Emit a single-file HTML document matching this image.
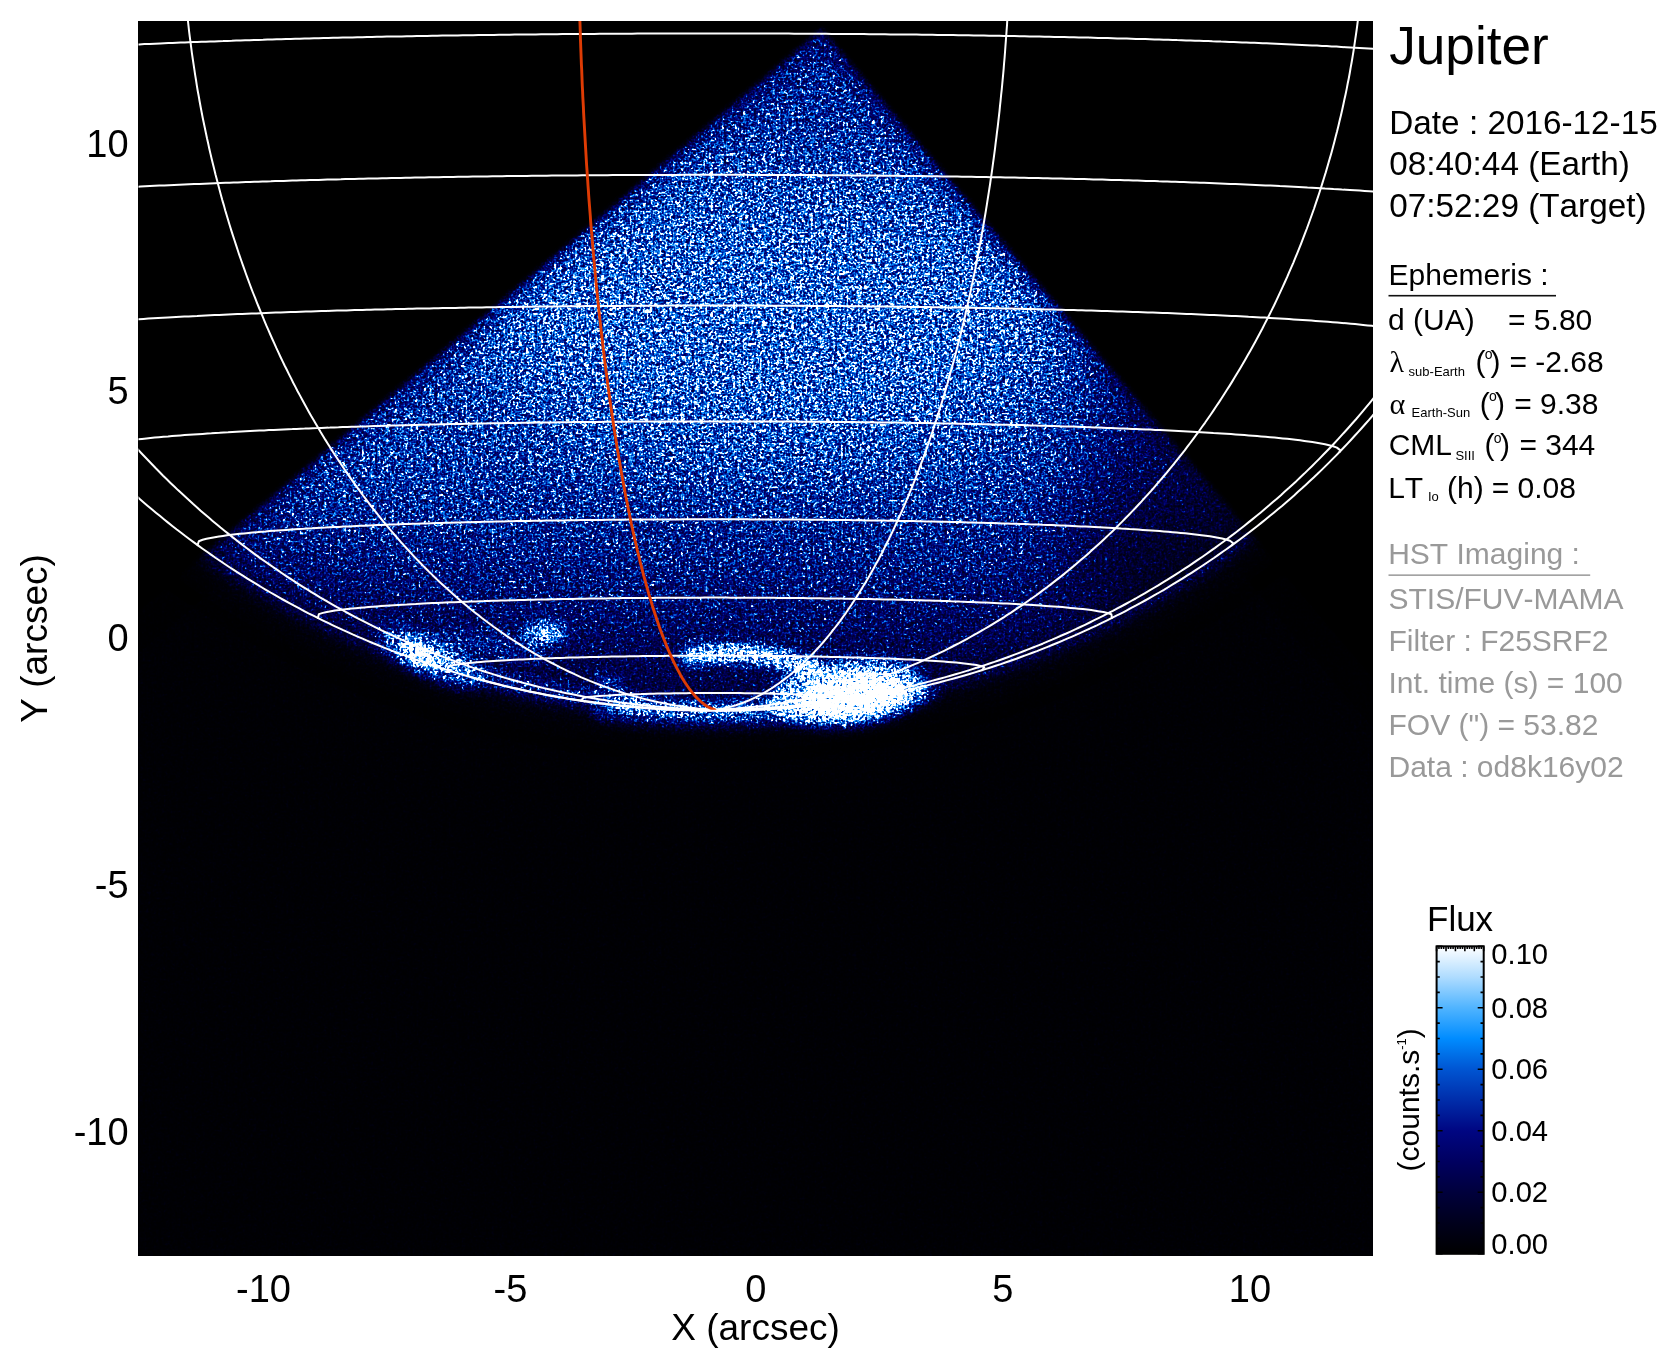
<!DOCTYPE html>
<html><head><meta charset="utf-8"><title>Jupiter HST</title>
<style>html,body{margin:0;padding:0;background:#fff}body{width:1676px;height:1368px;overflow:hidden;position:relative}svg{position:absolute;left:0;top:0;display:block;will-change:transform}text{font-family:"Liberation Sans",sans-serif;white-space:pre;font-kerning:none;font-variant-ligatures:none}</style></head><body>
<svg width="1676" height="1368" viewBox="0 0 1676 1368">
<defs>
<clipPath id="plotclip"><rect x="138.5" y="21.0" width="1234.5" height="1235.0"/></clipPath>
<filter id="noisecm" filterUnits="userSpaceOnUse" x="138.5" y="21.0" width="1234.5" height="1235.0" color-interpolation-filters="sRGB">
<feTurbulence type="fractalNoise" baseFrequency="0.53" numOctaves="1" seed="3" result="tA"/>
<feColorMatrix in="tA" type="matrix" values="0.55 0.55 0 0 -0.3400  0.55 0.55 0 0 -0.3400  0.55 0.55 0 0 -0.3400  0 0 0 0 1" result="nA"/>
<feTurbulence type="fractalNoise" baseFrequency="0.37" numOctaves="1" seed="11" result="tB"/>
<feColorMatrix in="tB" type="matrix" values="0.5 0.5 0 0 -0.3100  0.5 0.5 0 0 -0.3100  0.5 0.5 0 0 -0.3100  0 0 0 0 1" result="nB"/>
<feTurbulence type="fractalNoise" baseFrequency="0.21" numOctaves="1" seed="23" result="tC"/>
<feColorMatrix in="tC" type="matrix" values="0.3 0.3 0 0 -0.2000  0.3 0.3 0 0 -0.2000  0.3 0.3 0 0 -0.2000  0 0 0 0 1" result="nC"/>
<feComposite in="nA" in2="nB" operator="arithmetic" k1="0" k2="1" k3="1" k4="0" result="nAB"/>
<feComposite in="nAB" in2="nC" operator="arithmetic" k1="0" k2="1" k3="1" k4="0" result="n"/>
<feComponentTransfer in="n" result="w"><feFuncR type="table" tableValues="0.0907 0.0907 0.0907 0.0907 0.0907 0.0907 0.0907 0.0907 0.0907 0.0907 0.0928 0.0979 0.1033 0.1089 0.1149 0.1212 0.1279 0.1349 0.1424 0.1502 0.1584 0.1672 0.1763 0.1860 0.1963 0.2071 0.2185 0.2305 0.2431 0.2565 0.2706 0.2855 0.3012 0.3178 0.3352 0.3537 0.3731 0.3936 0.4153 0.4381 0.4622 0.4876 0.5144 0.5427 0.5726 0.6040 0.6373 0.6723 0.7093 0.7483 0.7894 0.8328 0.8786 0.9269 0.9779 1.0000 1.0000 1.0000 1.0000 1.0000 1.0000 1.0000 1.0000 1.0000 1.0000"/><feFuncG type="table" tableValues="0.0907 0.0907 0.0907 0.0907 0.0907 0.0907 0.0907 0.0907 0.0907 0.0907 0.0928 0.0979 0.1033 0.1089 0.1149 0.1212 0.1279 0.1349 0.1424 0.1502 0.1584 0.1672 0.1763 0.1860 0.1963 0.2071 0.2185 0.2305 0.2431 0.2565 0.2706 0.2855 0.3012 0.3178 0.3352 0.3537 0.3731 0.3936 0.4153 0.4381 0.4622 0.4876 0.5144 0.5427 0.5726 0.6040 0.6373 0.6723 0.7093 0.7483 0.7894 0.8328 0.8786 0.9269 0.9779 1.0000 1.0000 1.0000 1.0000 1.0000 1.0000 1.0000 1.0000 1.0000 1.0000"/><feFuncB type="table" tableValues="0.0907 0.0907 0.0907 0.0907 0.0907 0.0907 0.0907 0.0907 0.0907 0.0907 0.0928 0.0979 0.1033 0.1089 0.1149 0.1212 0.1279 0.1349 0.1424 0.1502 0.1584 0.1672 0.1763 0.1860 0.1963 0.2071 0.2185 0.2305 0.2431 0.2565 0.2706 0.2855 0.3012 0.3178 0.3352 0.3537 0.3731 0.3936 0.4153 0.4381 0.4622 0.4876 0.5144 0.5427 0.5726 0.6040 0.6373 0.6723 0.7093 0.7483 0.7894 0.8328 0.8786 0.9269 0.9779 1.0000 1.0000 1.0000 1.0000 1.0000 1.0000 1.0000 1.0000 1.0000 1.0000"/></feComponentTransfer>
<feComposite in="SourceGraphic" in2="w" operator="arithmetic" k1="6.130" k2="0" k3="0" k4="0" result="v"/>
<feComponentTransfer in="v"><feFuncR type="table" tableValues="0.000 0.000 0.000 0.000 0.000 0.000 0.000 0.000 0.314 0.686 1.000"/><feFuncG type="table" tableValues="0.000 0.000 0.000 0.000 0.024 0.176 0.333 0.549 0.706 0.863 1.000"/><feFuncB type="table" tableValues="0.000 0.110 0.235 0.376 0.510 0.667 0.824 1.000 1.000 1.000 1.000"/><feFuncA type="linear" slope="0" intercept="1"/></feComponentTransfer>
</filter>
<filter id="b2" x="-20%" y="-20%" width="140%" height="140%" color-interpolation-filters="sRGB"><feGaussianBlur stdDeviation="2"/></filter>
<filter id="b6" x="-20%" y="-20%" width="140%" height="140%" color-interpolation-filters="sRGB"><feGaussianBlur stdDeviation="7"/></filter>
<filter id="b12" x="-50%" y="-50%" width="200%" height="200%" color-interpolation-filters="sRGB"><feGaussianBlur stdDeviation="10"/></filter>
<filter id="b30" x="-50%" y="-50%" width="200%" height="200%" color-interpolation-filters="sRGB"><feGaussianBlur stdDeviation="40"/></filter>
<clipPath id="detclip"><polygon points="821.4,29.5 -701.6,1325.7 594.6,2848.7 2117.6,1552.5"/></clipPath>
<clipPath id="diskclip"><ellipse cx="714.86" cy="-73.49" rx="841.43" ry="784.2584610504133"/></clipPath>
<linearGradient id="cbg" x1="0" y1="1" x2="0" y2="0">
<stop offset="0.0" stop-color="rgb(0, 0, 0)"/>
<stop offset="0.1" stop-color="rgb(0, 0, 28)"/>
<stop offset="0.2" stop-color="rgb(0, 0, 60)"/>
<stop offset="0.3" stop-color="rgb(0, 0, 96)"/>
<stop offset="0.4" stop-color="rgb(0, 6, 130)"/>
<stop offset="0.5" stop-color="rgb(0, 45, 170)"/>
<stop offset="0.6" stop-color="rgb(0, 85, 210)"/>
<stop offset="0.7" stop-color="rgb(0, 140, 255)"/>
<stop offset="0.8" stop-color="rgb(80, 180, 255)"/>
<stop offset="0.9" stop-color="rgb(175, 220, 255)"/>
<stop offset="1.0" stop-color="rgb(255, 255, 255)"/>
</linearGradient>
<linearGradient id="diskg" gradientUnits="userSpaceOnUse" x1="0" y1="30" x2="0" y2="720">
<stop offset="0" stop-color="rgb(91,91,91)"/>
<stop offset="0.25" stop-color="rgb(127,127,127)"/>
<stop offset="0.45" stop-color="rgb(127,127,127)"/>
<stop offset="0.7" stop-color="rgb(102,102,102)"/>
<stop offset="0.85" stop-color="rgb(76,76,76)"/>
<stop offset="1" stop-color="rgb(66,66,66)"/>
</linearGradient>
<filter id="b5" x="-20%" y="-50%" width="140%" height="200%" color-interpolation-filters="sRGB"><feGaussianBlur stdDeviation="5"/></filter>
<filter id="b7" x="-50%" y="-50%" width="200%" height="200%" color-interpolation-filters="sRGB"><feGaussianBlur stdDeviation="6"/></filter>
<filter id="b20" x="-10%" y="-10%" width="120%" height="120%" color-interpolation-filters="sRGB"><feGaussianBlur stdDeviation="14"/></filter>
<filter id="bdet" filterUnits="userSpaceOnUse" x="0" y="0" width="1676" height="1368" color-interpolation-filters="sRGB"><feGaussianBlur stdDeviation="2.5"/></filter>
<clipPath id="diskclip2"><ellipse cx="714.86" cy="-73.49" rx="847.43" ry="790.2584610504133"/></clipPath>
<radialGradient id="diskrg">
<stop offset="0" stop-color="rgb(68,68,68)"/>
<stop offset="0.8" stop-color="rgb(68,68,68)"/>
<stop offset="0.9" stop-color="rgb(64,64,64)"/>
<stop offset="0.96" stop-color="rgb(54,54,54)"/>
<stop offset="1.0" stop-color="rgb(38,38,38)"/>
</radialGradient>
</defs>
<rect x="138.5" y="21.0" width="1234.5" height="1235.0" fill="#000"/>
<g clip-path="url(#plotclip)">
<g filter="url(#noisecm)">
<rect x="138.5" y="21.0" width="1234.5" height="1235.0" fill="#000"/>
<g filter="url(#bdet)"><g clip-path="url(#detclip)">
<rect x="0" y="0" width="1676" height="1368" fill="rgb(2,2,2)"/>
<g filter="url(#b20)"><ellipse cx="714.86" cy="-73.49" rx="859.43" ry="802.2584610504133" fill="rgb(9,9,9)"/></g>
<g filter="url(#b6)"><ellipse cx="714.86" cy="-73.49" rx="847.43" ry="790.2584610504133" fill="url(#diskrg)"/></g>
<g clip-path="url(#diskclip)">
<g filter="url(#b12)"><polygon points="72,1409 72,509 152,509 152,508 152,508 153,510 154,506 156,506 159,505 162,504 166,503 171,502 176,501 182,500 189,499 196,499 204,498 213,497 222,496 232,495 242,494 253,494 264,493 276,492 289,492 302,491 316,490 330,490 344,489 359,488 375,488 390,487 407,487 423,486 440,486 457,485 475,485 493,485 511,484 530,484 548,484 567,483 586,483 605,483 625,483 644,483 663,483 683,482 703,482 722,482 742,482 761,483 781,483 800,483 820,483 839,483 858,483 877,484 896,484 914,484 932,484 950,485 968,485 985,486 1002,486 1019,487 1035,487 1051,488 1067,488 1082,489 1097,489 1111,490 1124,491 1138,491 1150,492 1162,493 1174,494 1185,494 1196,495 1206,496 1215,497 1224,497 1232,498 1239,499 1246,500 1252,501 1258,502 1262,503 1267,504 1270,504 1273,505 1275,506 1277,507 1277,510 1278,508 1278,509 1278,509 1358,509 1358,1409" fill="#000" opacity="0.07"/></g>
<g filter="url(#b12)"><polygon points="117,1444 117,544 197,544 197,543 197,543 197,545 198,542 200,541 202,540 205,539 209,538 213,538 218,537 223,536 229,535 235,534 243,534 250,533 259,532 268,531 277,531 287,530 297,529 308,529 320,528 332,527 344,527 357,526 370,525 384,525 398,524 412,524 427,523 442,523 458,522 474,522 490,522 506,521 523,521 540,521 557,520 574,520 592,520 609,520 627,520 645,520 663,519 681,519 699,519 717,519 735,519 753,519 771,519 789,520 807,520 825,520 842,520 860,520 877,521 894,521 911,521 927,521 944,522 960,522 976,523 991,523 1006,523 1021,524 1035,524 1049,525 1063,526 1076,526 1089,527 1101,527 1113,528 1124,529 1135,529 1145,530 1155,531 1164,531 1173,532 1181,533 1189,534 1196,535 1202,535 1208,536 1213,537 1218,538 1222,539 1226,539 1228,540 1230,541 1232,542 1233,542 1233,543 1233,543 1233,544 1313,544 1313,1444" fill="#000" opacity="0.08"/></g>
<g filter="url(#b12)"><polygon points="163,1475 163,575 243,575 243,575 243,576 244,574 244,574 245,573 247,572 250,571 253,571 257,570 261,569 266,568 271,568 277,567 283,566 290,566 297,565 305,564 314,564 322,563 332,562 342,562 352,561 363,560 374,560 385,559 397,559 410,558 422,558 435,557 449,557 463,556 477,556 491,556 506,555 520,555 536,555 551,554 566,554 582,554 598,554 614,554 630,553 646,553 663,553 679,553 695,553 712,553 728,553 745,553 761,553 777,553 794,553 810,553 826,554 842,554 858,554 873,554 888,555 904,555 919,555 933,556 948,556 962,556 976,557 989,557 1003,558 1015,558 1028,559 1040,559 1052,560 1063,560 1074,561 1084,561 1094,562 1104,563 1113,563 1122,564 1130,565 1137,565 1144,566 1151,567 1157,567 1162,568 1167,569 1172,570 1175,570 1179,571 1181,572 1184,573 1185,573 1186,574 1186,576 1186,576 1187,575 1187,575 1267,575 1267,1475" fill="#000" opacity="0.08"/></g>
<g filter="url(#b12)"><polygon points="211,1503 211,603 291,603 292,603 292,604 292,602 292,602 293,602 295,601 297,600 299,600 302,599 306,598 310,598 315,597 320,596 325,596 331,595 338,594 345,594 352,593 360,593 368,592 377,591 386,591 396,590 406,590 416,589 426,589 437,588 449,588 460,588 472,587 485,587 497,586 510,586 523,586 536,585 550,585 563,585 577,585 591,584 605,584 620,584 634,584 649,584 663,584 678,584 693,584 707,584 722,584 737,584 752,584 766,584 781,584 796,584 810,584 824,584 838,584 853,585 866,585 880,585 894,585 907,586 920,586 933,586 945,587 957,587 969,588 981,588 992,588 1003,589 1014,589 1024,590 1034,590 1044,591 1053,591 1061,592 1070,593 1077,593 1085,594 1092,594 1098,595 1104,596 1110,596 1115,597 1120,598 1124,598 1127,599 1130,600 1133,600 1135,601 1137,602 1137,605 1138,604 1138,603 1138,603 1138,603 1138,603 1218,603 1218,1503" fill="#000" opacity="0.08"/></g>
<g filter="url(#b12)"><polygon points="261,1528 261,628 341,628 341,628 342,628 342,627 342,627 343,630 343,626 345,626 347,625 350,625 353,624 356,623 360,623 364,622 369,622 374,621 380,621 386,620 392,620 399,619 406,619 413,618 421,618 429,617 438,617 447,616 456,616 466,615 476,615 486,615 496,614 507,614 518,614 529,613 540,613 552,613 564,612 576,612 588,612 600,612 613,612 625,611 638,611 651,611 664,611 677,611 690,611 703,611 716,611 729,611 742,611 755,611 768,611 780,611 793,611 806,611 818,612 831,612 843,612 855,612 867,612 879,613 891,613 902,613 913,614 924,614 935,614 945,615 955,615 965,615 975,616 984,616 993,617 1001,617 1009,618 1017,618 1025,619 1032,619 1039,620 1045,620 1051,621 1056,621 1061,622 1066,622 1070,623 1074,624 1077,624 1080,625 1083,625 1085,626 1086,627 1087,627 1088,627 1088,627 1088,628 1088,629 1088,628 1168,628 1168,1528" fill="#000" opacity="0.07"/></g>
<g filter="url(#b12)"><polygon points="312,1550 312,650 392,650 392,650 393,651 393,649 393,651 394,649 394,648 395,648 396,648 398,647 401,647 404,646 407,646 410,645 414,645 418,644 423,644 428,643 433,643 439,642 445,642 451,641 458,641 465,640 472,640 479,640 487,639 495,639 504,639 512,638 521,638 530,638 539,637 549,637 559,637 569,637 579,636 589,636 599,636 610,636 621,636 632,635 642,635 653,635 664,635 676,635 687,635 698,635 709,635 720,635 732,635 743,635 754,635 765,635 776,635 787,635 798,635 809,636 820,636 830,636 841,636 851,636 861,637 871,637 881,637 890,637 900,638 909,638 918,638 926,639 935,639 943,639 950,640 958,640 965,640 972,641 979,641 985,642 991,642 997,643 1002,643 1007,644 1011,644 1016,645 1020,645 1023,646 1026,646 1029,647 1031,647 1033,648 1035,648 1036,652 1036,651 1037,649 1037,651 1037,649 1037,650 1037,650 1037,650 1117,650 1117,1550" fill="#000" opacity="0.07"/></g>
<g filter="url(#b12)"><polygon points="365,1568 365,668 445,668 445,668 445,668 445,668 445,669 446,669 446,670 447,670 447,670 448,666 450,666 452,665 454,665 457,664 460,664 463,664 467,663 471,663 475,662 480,662 484,662 489,661 495,661 500,661 506,660 512,660 519,660 525,659 532,659 539,659 546,658 554,658 561,658 569,658 577,657 586,657 594,657 602,657 611,657 620,656 629,656 638,656 647,656 656,656 665,656 674,656 684,656 693,656 702,656 712,656 721,656 731,656 740,656 750,656 759,656 768,656 777,656 786,656 795,656 804,656 813,657 822,657 831,657 839,657 847,657 855,657 863,658 871,658 879,658 886,658 893,659 900,659 907,659 914,660 920,660 926,660 932,661 937,661 942,661 947,662 952,662 956,663 960,663 964,663 968,664 971,664 974,665 976,665 978,665 980,666 982,666 983,670 983,667 984,670 984,669 985,667 985,668 985,669 985,668 985,668 1065,668 1065,1568" fill="#000" opacity="0.06"/></g>
</g>
<g clip-path="url(#diskclip)">
<g filter="url(#b30)"><ellipse cx="770" cy="320" rx="300" ry="140" fill="#fff" opacity="0.1"/></g>
<g filter="url(#b30)"><ellipse cx="821" cy="25" rx="150" ry="90" fill="#000" opacity="0.15"/></g>
<g filter="url(#b30)"><ellipse cx="1275" cy="480" rx="190" ry="210" fill="#000" opacity="0.45"/></g>
<g filter="url(#b30)"><ellipse cx="1170" cy="565" rx="130" ry="75" fill="#000" opacity="0.3"/></g>
</g>
<g filter="url(#b12)"><polygon points="821.4,29.5 -701.6,1325.7 594.6,2848.7 2117.6,1552.5" fill="none" stroke="#000" stroke-width="18" opacity="0.4"/></g>
<g filter="url(#b5)" fill="none" stroke="#fff" stroke-linecap="round">
<path d="M445.0 663.3 L448.3 664.4 L451.6 665.4 L454.9 666.4 L458.2 667.4 L461.5 668.4 L464.8 669.3 L468.1 670.3 L471.4 671.2 L474.7 672.2 L478.1 673.1 L481.4 674.0 L484.7 674.8 L488.0 675.7 L491.3 676.6 L494.6 677.4 L497.9 678.2 L501.2 679.1 L504.5 679.9 L507.8 680.7 L511.1 681.4 L514.4 682.2 L517.7 682.9 L521.0 683.7 L524.3 684.4 L527.6 685.1 L530.9 685.8 L534.2 686.5 L537.5 687.2 L540.8 687.8 L544.2 688.5 L547.5 689.1 L550.8 689.7 L554.1 690.3 L557.4 690.9 L560.7 691.5 L564.0 692.1 L567.3 692.6 L570.6 693.2 L573.9 693.7 L577.2 694.2 L580.5 694.7 L583.8 695.2 L587.1 695.7 L590.4 696.1 L593.7 696.6 L597.0 697.0 L600.3 697.5 L603.6 697.9 L606.9 698.3 L610.3 698.7 L613.6 699.1 L616.9 699.4 L620.2 699.8 L623.5 700.1 L626.8 700.5 L630.1 700.8 L633.4 701.1 L636.7 701.4 L640.0 701.7" stroke-width="12" opacity="0.18"/>
<path d="M620.0 703.8 L624.7 704.3 L629.5 704.7 L634.2 705.2 L639.0 705.6 L643.7 706.0 L648.5 706.3 L653.2 706.7 L658.0 707.0 L662.7 707.3 L667.5 707.5 L672.2 707.8 L676.9 708.0 L681.7 708.2 L686.4 708.3 L691.2 708.5 L695.9 708.6 L700.7 708.7 L705.4 708.7 L710.2 708.8 L714.9 708.8 L719.7 708.8 L724.4 708.7 L729.2 708.7 L733.9 708.6 L738.6 708.5 L743.4 708.3 L748.1 708.2 L752.9 708.0 L757.6 707.8 L762.4 707.5 L767.1 707.3 L771.9 707.0 L776.6 706.7 L781.4 706.3 L786.1 706.0 L790.8 705.6 L795.6 705.2 L800.3 704.7 L805.1 704.2 L809.8 703.8 L814.6 703.2 L819.3 702.7 L824.1 702.1 L828.8 701.5 L833.6 700.9 L838.3 700.3 L843.1 699.6 L847.8 698.9 L852.5 698.2 L857.3 697.5 L862.0 696.7 L866.8 695.9 L871.5 695.1 L876.3 694.2 L881.0 693.3 L885.8 692.4 L890.5 691.5 L895.3 690.5 L900.0 689.5" stroke-width="16" opacity="0.25"/>
<path d="M600.0 711.4 L605.6 712.1 L611.2 712.8 L616.8 713.4 L622.4 714.0 L628.0 714.6 L633.6 715.1 L639.2 715.6 L644.7 716.0 L650.3 716.5 L655.9 716.8 L661.5 717.2 L667.1 717.5 L672.7 717.8 L678.3 718.0 L683.9 718.2 L689.5 718.4 L695.1 718.6 L700.7 718.7 L706.3 718.7 L711.9 718.8 L717.5 718.8 L723.1 718.7 L728.6 718.7 L734.2 718.6 L739.8 718.4 L745.4 718.3 L751.0 718.0 L756.6 717.8 L762.2 717.5 L767.8 717.2 L773.4 716.9 L779.0 716.5 L784.6 716.1 L790.2 715.6 L795.8 715.1 L801.4 714.6 L806.9 714.1 L812.5 713.5 L818.1 712.8 L823.7 712.2 L829.3 711.5 L834.9 710.7 L840.5 710.0 L846.1 709.2 L851.7 708.3 L857.3 707.5 L862.9 706.5 L868.5 705.6 L874.1 704.6 L879.7 703.6 L885.3 702.5 L890.8 701.4 L896.4 700.3 L902.0 699.1 L907.6 697.9 L913.2 696.7 L918.8 695.4 L924.4 694.1 L930.0 692.7" stroke-width="18" opacity="0.14"/>
<path d="M690 656 Q760 647 815 670" stroke-width="15" opacity="0.55"/>
</g>
<g filter="url(#b7)">
<ellipse cx="853" cy="695" rx="48" ry="19" fill="#fff" opacity="1.0" transform="rotate(-6 853 695)"/>
<ellipse cx="848" cy="693" rx="78" ry="32" fill="#fff" opacity="0.4" transform="rotate(-6 848 693)"/>
<ellipse cx="421" cy="654" rx="22" ry="8" fill="#fff" opacity="0.8" transform="rotate(27 421 654)"/>
<ellipse cx="430" cy="658" rx="58" ry="19" fill="#fff" opacity="0.22" transform="rotate(25 430 658)"/>
<ellipse cx="490" cy="646" rx="60" ry="13" fill="#fff" opacity="0.1" transform="rotate(8 490 646)"/>
<ellipse cx="545" cy="633" rx="20" ry="8" fill="#fff" opacity="0.5" transform="rotate(0 545 633)"/>
<ellipse cx="609" cy="684" rx="14" ry="6" fill="#fff" opacity="0.25" transform="rotate(10 609 684)"/>
</g>
</g></g>
</g>
</g>
<g clip-path="url(#plotclip)" fill="none" stroke="#fff" stroke-width="2" stroke-linecap="round" stroke-linejoin="round">
<path d="M584.9 701.4 L580.9 700.6 L583.6 697.7 L587.6 697.1 L591.6 696.7 L595.7 696.3 L599.8 696.0 L603.8 695.7 L607.9 695.5 L612.1 695.2 L616.1 695.0 L620.3 694.8 L624.5 694.6 L628.5 694.5 L632.8 694.3 L636.8 694.2 L641.1 694.1 L645.1 693.9 L649.2 693.8 L653.5 693.7 L657.5 693.6 L661.6 693.5 L665.7 693.5 L669.9 693.4 L674.1 693.3 L678.4 693.3 L682.4 693.2 L686.5 693.2 L690.6 693.1 L694.7 693.1 L698.8 693.1 L703.0 693.1 L707.1 693.0 L711.3 693.0 L715.5 693.0 L719.6 693.0 L723.8 693.1 L727.9 693.1 L732.1 693.1 L736.2 693.1 L740.3 693.1 L744.4 693.2 L748.4 693.2 L752.5 693.3 L756.7 693.3 L761.0 693.4 L765.1 693.5 L769.3 693.6 L773.3 693.7 L777.3 693.7 L781.5 693.9 L785.6 694.0 L789.7 694.1 L793.8 694.2 L797.9 694.4 L802.1 694.5 L806.2 694.7 L810.3 694.9 L814.4 695.1 L818.6 695.3 L822.7 695.5 L826.8 695.8 L830.9 696.1 L834.9 696.4 L838.9 696.8 L842.9 697.2 L846.9 697.8 L850.7 698.8 L847.3 700.9 L844.8 701.4"/>
<path d="M447.6 670.1 L448.3 666.2 L452.3 665.3 L456.4 664.6 L460.5 664.0 L464.5 663.5 L468.7 663.1 L472.7 662.7 L476.8 662.3 L480.8 662.0 L485.0 661.6 L489.2 661.3 L493.5 661.0 L497.6 660.8 L501.9 660.5 L505.9 660.3 L510.1 660.0 L514.4 659.8 L518.4 659.6 L522.5 659.4 L526.7 659.2 L531.0 659.0 L535.3 658.8 L539.3 658.7 L543.4 658.5 L547.5 658.3 L551.7 658.2 L556.0 658.0 L560.3 657.9 L564.7 657.8 L569.1 657.6 L573.6 657.5 L577.7 657.4 L581.8 657.3 L585.9 657.2 L590.1 657.1 L594.3 657.0 L598.5 656.9 L602.8 656.8 L607.1 656.7 L611.4 656.6 L615.8 656.5 L620.2 656.4 L624.6 656.4 L629.1 656.3 L633.6 656.2 L638.1 656.2 L642.6 656.1 L647.2 656.0 L651.2 656.0 L655.2 655.9 L659.2 655.9 L663.3 655.9 L667.3 655.8 L671.4 655.8 L675.5 655.8 L679.6 655.7 L683.7 655.7 L687.8 655.7 L691.9 655.7 L696.0 655.7 L700.1 655.7 L704.2 655.6 L708.4 655.6 L712.5 655.6 L716.6 655.6 L720.8 655.6 L724.9 655.6 L729.0 655.7 L733.1 655.7 L737.2 655.7 L741.4 655.7 L745.5 655.7 L749.6 655.7 L753.6 655.8 L757.7 655.8 L761.8 655.8 L765.9 655.9 L769.9 655.9 L773.9 655.9 L778.0 656.0 L782.0 656.0 L786.5 656.1 L791.1 656.1 L795.6 656.2 L800.1 656.3 L804.5 656.4 L809.0 656.4 L813.4 656.5 L817.7 656.6 L822.1 656.7 L826.4 656.8 L830.7 656.9 L834.9 657.0 L839.1 657.1 L843.3 657.2 L847.4 657.3 L851.5 657.4 L855.6 657.5 L859.6 657.6 L864.0 657.7 L868.4 657.9 L872.8 658.0 L877.0 658.2 L881.3 658.3 L885.4 658.5 L889.5 658.6 L893.5 658.8 L897.9 659.0 L902.2 659.2 L906.4 659.4 L910.5 659.6 L914.5 659.8 L918.8 660.0 L923.0 660.2 L927.1 660.5 L931.4 660.7 L935.6 661.0 L939.6 661.3 L943.8 661.6 L948.0 661.9 L952.1 662.2 L956.2 662.6 L960.3 663.0 L964.3 663.4 L968.4 663.9 L972.4 664.4 L976.5 665.1 L980.5 665.9 L984.3 667.3 L982.2 670.1"/>
<path d="M317.9 618.0 L318.9 614.1 L322.9 612.9 L326.8 612.0 L330.9 611.3 L334.9 610.6 L339.1 610.1 L343.3 609.5 L347.5 609.0 L351.7 608.6 L355.8 608.2 L360.0 607.8 L364.1 607.4 L368.3 607.1 L372.7 606.7 L376.8 606.4 L381.0 606.1 L385.3 605.8 L389.8 605.5 L393.9 605.2 L398.0 605.0 L402.3 604.7 L406.7 604.5 L411.1 604.2 L415.7 604.0 L419.8 603.7 L423.9 603.5 L428.1 603.3 L432.3 603.1 L436.7 602.9 L441.1 602.7 L445.5 602.5 L450.0 602.3 L454.6 602.2 L459.3 602.0 L463.3 601.8 L467.4 601.7 L471.5 601.5 L475.6 601.4 L479.8 601.2 L484.1 601.1 L488.3 600.9 L492.6 600.8 L497.0 600.7 L501.4 600.5 L505.8 600.4 L510.3 600.3 L514.8 600.2 L519.3 600.0 L523.9 599.9 L528.5 599.8 L533.1 599.7 L537.8 599.6 L542.4 599.5 L547.2 599.4 L551.9 599.3 L556.7 599.2 L560.7 599.1 L564.7 599.0 L568.7 598.9 L572.8 598.9 L576.9 598.8 L581.0 598.7 L585.1 598.7 L589.2 598.6 L593.3 598.5 L597.5 598.5 L601.6 598.4 L605.8 598.4 L610.0 598.3 L614.2 598.2 L618.4 598.2 L622.6 598.1 L626.9 598.1 L631.1 598.1 L635.4 598.0 L639.6 598.0 L643.9 597.9 L648.2 597.9 L652.5 597.9 L656.8 597.8 L661.1 597.8 L665.4 597.8 L669.7 597.8 L674.1 597.7 L678.4 597.7 L682.7 597.7 L687.0 597.7 L691.4 597.7 L695.7 597.7 L700.1 597.7 L704.4 597.6 L708.8 597.6 L713.1 597.6 L717.5 597.6 L721.8 597.6 L726.2 597.6 L730.5 597.7 L734.9 597.7 L739.2 597.7 L743.5 597.7 L747.9 597.7 L752.2 597.7 L756.5 597.7 L760.9 597.8 L765.2 597.8 L769.5 597.8 L773.8 597.8 L778.1 597.9 L782.4 597.9 L786.7 597.9 L790.9 598.0 L795.2 598.0 L799.5 598.1 L803.7 598.1 L807.9 598.2 L812.2 598.2 L816.4 598.3 L820.6 598.3 L824.7 598.4 L828.9 598.4 L833.1 598.5 L837.2 598.5 L841.4 598.6 L845.5 598.7 L849.6 598.7 L853.7 598.8 L857.7 598.9 L861.8 599.0 L865.8 599.0 L869.8 599.1 L874.6 599.2 L879.4 599.3 L884.1 599.4 L888.8 599.5 L893.5 599.6 L898.2 599.7 L902.8 599.8 L907.4 600.0 L911.9 600.1 L916.5 600.2 L920.9 600.3 L925.4 600.5 L929.8 600.6 L934.2 600.7 L938.5 600.8 L942.8 601.0 L947.1 601.1 L951.3 601.3 L955.5 601.4 L959.6 601.6 L963.7 601.7 L967.8 601.9 L971.8 602.0 L976.4 602.2 L981.0 602.4 L985.5 602.6 L989.9 602.8 L994.3 603.0 L998.6 603.2 L1002.8 603.4 L1007.0 603.6 L1011.1 603.8 L1015.2 604.0 L1019.7 604.3 L1024.1 604.5 L1028.5 604.8 L1032.7 605.0 L1036.9 605.3 L1040.9 605.6 L1045.4 605.9 L1049.7 606.2 L1053.9 606.5 L1057.9 606.8 L1062.3 607.1 L1066.5 607.5 L1070.5 607.9 L1074.7 608.3 L1078.7 608.7 L1082.9 609.1 L1087.1 609.6 L1091.2 610.1 L1095.3 610.7 L1099.5 611.4 L1103.5 612.1 L1107.5 613.0 L1111.4 614.3 L1111.9 618.0"/>
<path d="M197.6 545.1 L198.8 541.3 L202.6 539.8 L206.5 538.8 L210.6 537.9 L214.8 537.2 L218.9 536.5 L223.0 535.9 L227.0 535.3 L231.4 534.8 L235.6 534.3 L240.0 533.8 L244.2 533.4 L248.5 533.0 L252.5 532.6 L256.7 532.2 L261.0 531.8 L265.4 531.5 L269.4 531.1 L273.5 530.8 L277.7 530.5 L282.0 530.2 L286.4 529.9 L290.9 529.6 L295.5 529.3 L299.6 529.0 L303.7 528.8 L307.8 528.5 L312.1 528.3 L316.4 528.0 L320.7 527.8 L325.2 527.6 L329.7 527.3 L334.3 527.1 L338.9 526.9 L343.6 526.6 L348.4 526.4 L352.4 526.2 L356.4 526.0 L360.5 525.8 L364.7 525.7 L368.9 525.5 L373.1 525.3 L377.4 525.1 L381.7 525.0 L386.0 524.8 L390.4 524.6 L394.9 524.5 L399.3 524.3 L403.8 524.1 L408.4 524.0 L413.0 523.8 L417.6 523.7 L422.2 523.5 L426.9 523.4 L431.6 523.2 L436.4 523.1 L441.2 523.0 L446.0 522.8 L450.8 522.7 L455.7 522.5 L460.6 522.4 L465.6 522.3 L470.5 522.2 L475.5 522.0 L479.6 521.9 L483.6 521.8 L487.6 521.8 L491.7 521.7 L495.8 521.6 L499.9 521.5 L504.0 521.4 L508.2 521.3 L512.3 521.2 L516.5 521.1 L520.7 521.1 L524.9 521.0 L529.1 520.9 L533.3 520.8 L537.6 520.8 L541.8 520.7 L546.1 520.6 L550.4 520.6 L554.7 520.5 L559.0 520.4 L563.3 520.4 L567.7 520.3 L572.0 520.2 L576.3 520.2 L580.7 520.1 L585.1 520.1 L589.5 520.0 L593.9 520.0 L598.3 519.9 L602.7 519.9 L607.1 519.8 L611.5 519.8 L616.0 519.7 L620.4 519.7 L624.9 519.7 L629.3 519.6 L633.8 519.6 L638.2 519.6 L642.7 519.5 L647.2 519.5 L651.7 519.5 L656.2 519.5 L660.7 519.4 L665.2 519.4 L669.7 519.4 L674.2 519.4 L678.7 519.4 L683.2 519.3 L687.7 519.3 L692.3 519.3 L696.8 519.3 L701.3 519.3 L705.8 519.3 L710.3 519.3 L714.9 519.3 L719.4 519.3 L723.9 519.3 L728.4 519.3 L732.9 519.3 L737.5 519.3 L742.0 519.3 L746.5 519.3 L751.0 519.4 L755.5 519.4 L760.0 519.4 L764.5 519.4 L769.0 519.4 L773.5 519.5 L778.0 519.5 L782.5 519.5 L787.0 519.5 L791.5 519.6 L795.9 519.6 L800.4 519.6 L804.9 519.7 L809.3 519.7 L813.8 519.7 L818.2 519.8 L822.6 519.8 L827.0 519.9 L831.5 519.9 L835.9 520.0 L840.3 520.0 L844.6 520.1 L849.0 520.1 L853.4 520.2 L857.7 520.2 L862.1 520.3 L866.4 520.4 L870.7 520.4 L875.0 520.5 L879.3 520.6 L883.6 520.6 L887.9 520.7 L892.1 520.8 L896.4 520.8 L900.6 520.9 L904.8 521.0 L909.0 521.1 L913.2 521.1 L917.4 521.2 L921.5 521.3 L925.7 521.4 L929.8 521.5 L933.9 521.6 L938.0 521.7 L942.1 521.8 L946.1 521.8 L950.2 521.9 L954.2 522.0 L958.2 522.1 L963.2 522.3 L968.1 522.4 L973.0 522.5 L977.9 522.7 L982.8 522.8 L987.6 522.9 L992.4 523.1 L997.2 523.2 L1001.9 523.4 L1006.6 523.5 L1011.2 523.7 L1015.8 523.8 L1020.4 524.0 L1025.0 524.1 L1029.5 524.3 L1034.0 524.4 L1038.4 524.6 L1042.8 524.8 L1047.2 524.9 L1051.5 525.1 L1055.8 525.3 L1060.0 525.5 L1064.2 525.6 L1068.3 525.8 L1072.5 526.0 L1076.5 526.2 L1080.6 526.4 L1085.3 526.6 L1090.1 526.8 L1094.7 527.0 L1099.3 527.3 L1103.8 527.5 L1108.3 527.8 L1112.6 528.0 L1117.0 528.2 L1121.2 528.5 L1125.4 528.7 L1129.5 529.0 L1133.5 529.2 L1138.1 529.5 L1142.7 529.9 L1147.1 530.2 L1151.4 530.5 L1155.6 530.8 L1159.7 531.1 L1163.7 531.4 L1168.2 531.8 L1172.5 532.2 L1176.7 532.5 L1180.7 532.9 L1185.1 533.3 L1189.3 533.8 L1193.3 534.2 L1197.5 534.7 L1201.5 535.2 L1205.7 535.7 L1209.9 536.3 L1214.0 537.0 L1218.0 537.7 L1222.1 538.5 L1226.1 539.5 L1230.0 540.8 L1233.2 543.3 L1232.1 545.1"/>
<path d="M108.1 443.6 L112.3 442.8 L116.5 442.1 L120.6 441.5 L125.0 440.9 L129.2 440.4 L133.6 439.9 L137.7 439.4 L142.0 438.9 L146.4 438.4 L150.5 438.0 L154.7 437.6 L159.0 437.2 L163.4 436.8 L168.0 436.5 L172.0 436.1 L176.1 435.8 L180.3 435.5 L184.6 435.1 L189.0 434.8 L193.4 434.5 L198.0 434.2 L202.6 433.9 L207.4 433.5 L211.4 433.3 L215.5 433.0 L219.6 432.8 L223.8 432.5 L228.1 432.3 L232.4 432.0 L236.7 431.8 L241.2 431.5 L245.6 431.3 L250.2 431.1 L254.8 430.8 L259.4 430.6 L264.1 430.4 L268.9 430.1 L273.7 429.9 L278.5 429.7 L283.4 429.5 L288.4 429.2 L292.4 429.1 L296.5 428.9 L300.5 428.7 L304.6 428.6 L308.8 428.4 L312.9 428.2 L317.1 428.1 L321.3 427.9 L325.6 427.7 L329.9 427.6 L334.2 427.4 L338.5 427.3 L342.9 427.1 L347.3 427.0 L351.7 426.8 L356.2 426.7 L360.7 426.5 L365.2 426.4 L369.7 426.2 L374.3 426.1 L378.9 426.0 L383.5 425.8 L388.1 425.7 L392.8 425.6 L397.5 425.4 L402.2 425.3 L406.9 425.2 L411.7 425.1 L416.5 424.9 L421.3 424.8 L426.1 424.7 L431.0 424.6 L435.9 424.5 L440.7 424.3 L445.7 424.2 L450.6 424.1 L455.6 424.0 L460.5 423.9 L465.5 423.8 L470.5 423.7 L475.6 423.6 L480.6 423.5 L485.7 423.4 L490.8 423.3 L495.9 423.2 L501.0 423.2 L506.1 423.1 L511.3 423.0 L516.4 422.9 L521.6 422.8 L526.8 422.7 L532.0 422.7 L537.3 422.6 L542.5 422.5 L547.8 422.5 L553.0 422.4 L558.3 422.3 L563.6 422.3 L568.9 422.2 L574.2 422.1 L579.5 422.1 L584.9 422.0 L588.9 422.0 L592.9 421.9 L596.9 421.9 L600.9 421.9 L604.9 421.8 L609.0 421.8 L613.0 421.8 L617.0 421.7 L621.1 421.7 L625.1 421.7 L629.2 421.7 L633.2 421.6 L637.3 421.6 L641.4 421.6 L645.4 421.6 L649.5 421.5 L653.6 421.5 L657.6 421.5 L661.7 421.5 L665.8 421.5 L669.9 421.5 L674.0 421.5 L678.0 421.4 L682.1 421.4 L686.2 421.4 L690.3 421.4 L694.4 421.4 L698.5 421.4 L702.6 421.4 L706.7 421.4 L710.8 421.4 L714.9 421.4 L719.0 421.4 L723.0 421.4 L727.1 421.4 L731.2 421.4 L735.3 421.4 L739.4 421.4 L743.5 421.4 L747.6 421.4 L751.7 421.4 L755.8 421.5 L759.8 421.5 L763.9 421.5 L768.0 421.5 L772.1 421.5 L776.2 421.5 L780.2 421.5 L784.3 421.6 L788.4 421.6 L792.4 421.6 L796.5 421.6 L800.5 421.7 L804.6 421.7 L808.6 421.7 L812.7 421.7 L816.7 421.8 L820.8 421.8 L824.8 421.8 L828.8 421.9 L832.8 421.9 L836.8 421.9 L840.9 422.0 L844.9 422.0 L848.9 422.1 L854.2 422.1 L859.5 422.2 L864.8 422.2 L870.1 422.3 L875.4 422.4 L880.6 422.4 L885.9 422.5 L891.1 422.6 L896.4 422.6 L901.6 422.7 L906.8 422.8 L912.0 422.9 L917.1 423.0 L922.3 423.0 L927.4 423.1 L932.6 423.2 L937.7 423.3 L942.8 423.4 L947.8 423.5 L952.9 423.6 L957.9 423.7 L962.9 423.8 L967.9 423.9 L972.9 424.0 L977.9 424.1 L982.8 424.2 L987.7 424.3 L992.6 424.4 L997.5 424.5 L1002.4 424.7 L1007.2 424.8 L1012.0 424.9 L1016.8 425.0 L1021.6 425.1 L1026.3 425.3 L1031.0 425.4 L1035.7 425.5 L1040.4 425.7 L1045.1 425.8 L1049.7 425.9 L1054.3 426.1 L1058.8 426.2 L1063.4 426.4 L1067.9 426.5 L1072.4 426.6 L1076.9 426.8 L1081.3 426.9 L1085.7 427.1 L1090.1 427.2 L1094.4 427.4 L1098.8 427.5 L1103.0 427.7 L1107.3 427.9 L1111.5 428.0 L1115.7 428.2 L1119.9 428.4 L1124.1 428.5 L1128.2 428.7 L1132.3 428.9 L1136.3 429.0 L1140.3 429.2 L1145.3 429.4 L1150.2 429.6 L1155.1 429.9 L1159.9 430.1 L1164.7 430.3 L1169.4 430.5 L1174.0 430.8 L1178.6 431.0 L1183.2 431.3 L1187.7 431.5 L1192.1 431.7 L1196.5 432.0 L1200.8 432.2 L1205.1 432.5 L1209.3 432.7 L1213.4 433.0 L1217.5 433.2 L1221.5 433.5 L1226.3 433.8 L1231.0 434.1 L1235.5 434.4 L1240.0 434.8 L1244.4 435.1 L1248.7 435.4 L1252.9 435.7 L1257.1 436.1 L1261.1 436.4 L1265.7 436.8 L1270.1 437.2 L1274.5 437.6 L1278.7 438.0 L1282.7 438.4 L1287.2 438.8 L1291.5 439.3 L1295.6 439.8 L1300.1 440.3 L1304.3 440.9 L1308.3 441.4 L1312.4 442.0 L1316.7 442.7 L1320.9 443.4 L1325.0 444.2 L1329.2 445.2 L1333.1 446.2 L1336.9 447.6 L1340.1 450.1 L1339.6 451.9"/>
<path d="M108.3 321.3 L112.4 321.0 L116.7 320.7 L121.0 320.4 L125.4 320.1 L129.8 319.8 L134.4 319.5 L138.9 319.2 L143.6 318.9 L148.3 318.6 L153.1 318.3 L158.0 318.0 L162.9 317.8 L167.9 317.5 L172.0 317.2 L176.1 317.0 L180.2 316.8 L184.3 316.6 L188.6 316.4 L192.8 316.2 L197.1 316.0 L201.4 315.7 L205.8 315.5 L210.2 315.3 L214.6 315.1 L219.1 314.9 L223.6 314.7 L228.2 314.5 L232.8 314.3 L237.4 314.1 L242.1 313.9 L246.8 313.7 L251.5 313.5 L256.3 313.4 L261.1 313.2 L265.9 313.0 L270.8 312.8 L275.7 312.6 L280.7 312.4 L285.6 312.3 L290.7 312.1 L295.7 311.9 L300.8 311.8 L305.9 311.6 L311.0 311.4 L316.2 311.3 L321.4 311.1 L326.6 310.9 L331.9 310.8 L337.1 310.6 L342.5 310.5 L346.5 310.4 L350.5 310.2 L354.5 310.1 L358.6 310.0 L362.6 309.9 L366.7 309.8 L370.8 309.7 L374.9 309.6 L379.1 309.5 L383.2 309.4 L387.4 309.3 L391.5 309.2 L395.7 309.1 L399.9 309.0 L404.1 308.9 L408.3 308.8 L412.6 308.7 L416.8 308.6 L421.1 308.5 L425.4 308.4 L429.6 308.4 L433.9 308.3 L438.3 308.2 L442.6 308.1 L446.9 308.0 L451.3 307.9 L455.6 307.9 L460.0 307.8 L464.4 307.7 L468.8 307.6 L473.2 307.5 L477.6 307.5 L482.0 307.4 L486.4 307.3 L490.9 307.3 L495.3 307.2 L499.8 307.1 L504.2 307.1 L508.7 307.0 L513.2 306.9 L517.7 306.9 L522.2 306.8 L526.7 306.8 L531.2 306.7 L535.8 306.6 L540.3 306.6 L544.8 306.5 L549.4 306.5 L554.0 306.4 L558.5 306.4 L563.1 306.3 L567.7 306.3 L572.3 306.3 L576.8 306.2 L581.4 306.2 L586.0 306.1 L590.7 306.1 L595.3 306.1 L599.9 306.0 L604.5 306.0 L609.1 305.9 L613.8 305.9 L618.4 305.9 L623.0 305.9 L627.7 305.8 L632.3 305.8 L637.0 305.8 L641.6 305.8 L646.3 305.7 L651.0 305.7 L655.6 305.7 L660.3 305.7 L665.0 305.7 L669.6 305.6 L674.3 305.6 L679.0 305.6 L683.7 305.6 L688.3 305.6 L693.0 305.6 L697.7 305.6 L702.4 305.6 L707.1 305.6 L711.7 305.6 L716.4 305.6 L721.1 305.6 L725.8 305.6 L730.5 305.6 L735.1 305.6 L739.8 305.6 L744.5 305.6 L749.2 305.6 L753.9 305.6 L758.5 305.6 L763.2 305.7 L767.9 305.7 L772.5 305.7 L777.2 305.7 L781.9 305.7 L786.5 305.7 L791.2 305.8 L795.8 305.8 L800.5 305.8 L805.1 305.8 L809.8 305.9 L814.4 305.9 L819.0 305.9 L823.7 306.0 L828.3 306.0 L832.9 306.0 L837.5 306.1 L842.1 306.1 L846.7 306.2 L851.3 306.2 L855.9 306.2 L860.5 306.3 L865.1 306.3 L869.7 306.4 L874.2 306.4 L878.8 306.5 L883.4 306.5 L887.9 306.6 L892.4 306.6 L897.0 306.7 L901.5 306.7 L906.0 306.8 L910.5 306.9 L915.0 306.9 L919.5 307.0 L924.0 307.0 L928.5 307.1 L932.9 307.2 L937.4 307.2 L941.8 307.3 L946.3 307.4 L950.7 307.5 L955.1 307.5 L959.5 307.6 L963.9 307.7 L968.3 307.8 L972.6 307.8 L977.0 307.9 L981.4 308.0 L985.7 308.1 L990.0 308.2 L994.3 308.2 L998.6 308.3 L1002.9 308.4 L1007.2 308.5 L1011.5 308.6 L1015.7 308.7 L1020.0 308.8 L1024.2 308.9 L1028.4 309.0 L1032.6 309.1 L1036.8 309.2 L1041.0 309.3 L1045.1 309.4 L1049.3 309.5 L1053.4 309.6 L1057.5 309.7 L1061.6 309.8 L1065.7 309.9 L1069.8 310.0 L1073.9 310.1 L1077.9 310.2 L1081.9 310.3 L1085.9 310.4 L1091.3 310.6 L1096.5 310.7 L1101.8 310.9 L1107.0 311.1 L1112.2 311.2 L1117.4 311.4 L1122.6 311.5 L1127.7 311.7 L1132.8 311.9 L1137.8 312.1 L1142.8 312.2 L1147.8 312.4 L1152.8 312.6 L1157.7 312.8 L1162.6 312.9 L1167.4 313.1 L1172.2 313.3 L1177.0 313.5 L1181.8 313.7 L1186.5 313.9 L1191.2 314.1 L1195.8 314.3 L1200.4 314.5 L1205.0 314.7 L1209.5 314.9 L1214.0 315.1 L1218.4 315.3 L1222.8 315.5 L1227.2 315.7 L1231.6 315.9 L1235.8 316.1 L1240.1 316.3 L1244.3 316.5 L1248.5 316.8 L1252.6 317.0 L1256.7 317.2 L1260.8 317.4 L1264.8 317.6 L1269.8 317.9 L1274.6 318.2 L1279.5 318.5 L1284.2 318.8 L1288.9 319.1 L1293.5 319.4 L1298.1 319.7 L1302.6 320.0 L1307.0 320.3 L1311.3 320.6 L1315.6 320.9 L1319.8 321.2 L1323.9 321.5 L1328.0 321.8 L1332.7 322.2 L1337.4 322.6 L1342.0 322.9 L1346.4 323.3 L1350.8 323.7 L1355.0 324.1 L1359.1 324.5 L1363.1 324.9 L1367.7 325.4 L1372.1 325.8 L1376.3 326.3 L1380.4 326.8 L1384.8 327.3 L1389.1 327.9 L1393.2 328.4 L1397.5 329.0 L1401.6 329.7 L1402.9 329.9"/>
<path d="M109.0 188.2 L113.4 188.0 L117.8 187.7 L122.2 187.5 L126.7 187.2 L131.3 187.0 L135.8 186.8 L140.5 186.5 L145.2 186.3 L149.9 186.1 L154.6 185.8 L159.4 185.6 L164.3 185.4 L169.2 185.2 L174.1 184.9 L179.1 184.7 L184.1 184.5 L189.1 184.3 L194.2 184.1 L199.4 183.9 L204.5 183.7 L209.8 183.4 L215.0 183.2 L220.3 183.0 L225.6 182.8 L229.6 182.7 L233.7 182.5 L237.7 182.4 L241.8 182.2 L245.9 182.1 L250.0 182.0 L254.2 181.8 L258.3 181.7 L262.5 181.5 L266.7 181.4 L270.9 181.3 L275.2 181.1 L279.4 181.0 L283.7 180.9 L288.0 180.7 L292.3 180.6 L296.6 180.5 L301.0 180.3 L305.3 180.2 L309.7 180.1 L314.1 180.0 L318.5 179.9 L323.0 179.7 L327.4 179.6 L331.9 179.5 L336.4 179.4 L340.9 179.3 L345.4 179.1 L349.9 179.0 L354.5 178.9 L359.0 178.8 L363.6 178.7 L368.2 178.6 L372.8 178.5 L377.4 178.4 L382.1 178.3 L386.7 178.2 L391.4 178.1 L396.1 178.0 L400.8 177.9 L405.5 177.8 L410.2 177.7 L414.9 177.6 L419.7 177.5 L424.4 177.4 L429.2 177.3 L434.0 177.3 L438.8 177.2 L443.6 177.1 L448.4 177.0 L453.2 176.9 L458.1 176.8 L462.9 176.8 L467.8 176.7 L472.7 176.6 L477.5 176.5 L482.4 176.5 L487.3 176.4 L492.3 176.3 L497.2 176.3 L502.1 176.2 L507.1 176.1 L512.0 176.1 L517.0 176.0 L521.9 175.9 L526.9 175.9 L531.9 175.8 L536.9 175.8 L541.9 175.7 L546.9 175.7 L551.9 175.6 L556.9 175.6 L562.0 175.5 L567.0 175.5 L572.0 175.4 L577.1 175.4 L582.1 175.3 L587.2 175.3 L592.3 175.3 L597.3 175.2 L602.4 175.2 L607.5 175.2 L612.6 175.1 L617.6 175.1 L622.7 175.1 L627.8 175.0 L632.9 175.0 L638.0 175.0 L643.1 175.0 L648.3 175.0 L653.4 174.9 L658.5 174.9 L663.6 174.9 L668.7 174.9 L673.8 174.9 L679.0 174.9 L684.1 174.8 L689.2 174.8 L694.3 174.8 L699.5 174.8 L704.6 174.8 L709.7 174.8 L714.9 174.8 L720.0 174.8 L725.1 174.8 L730.2 174.8 L735.4 174.8 L740.5 174.8 L745.6 174.8 L750.8 174.9 L755.9 174.9 L761.0 174.9 L766.1 174.9 L771.2 174.9 L776.4 174.9 L781.5 175.0 L786.6 175.0 L791.7 175.0 L796.8 175.0 L801.9 175.0 L807.0 175.1 L812.1 175.1 L817.2 175.1 L822.2 175.2 L827.3 175.2 L832.4 175.2 L837.5 175.3 L842.5 175.3 L847.6 175.3 L852.6 175.4 L857.7 175.4 L862.7 175.5 L867.8 175.5 L872.8 175.6 L877.8 175.6 L882.8 175.7 L887.8 175.7 L892.8 175.8 L897.8 175.8 L902.8 175.9 L907.8 175.9 L912.8 176.0 L917.7 176.1 L922.7 176.1 L927.6 176.2 L932.5 176.3 L937.5 176.3 L942.4 176.4 L947.3 176.5 L952.2 176.5 L957.1 176.6 L961.9 176.7 L966.8 176.8 L971.6 176.8 L976.5 176.9 L981.3 177.0 L986.1 177.1 L990.9 177.2 L995.7 177.3 L1000.5 177.3 L1005.3 177.4 L1010.1 177.5 L1014.8 177.6 L1019.5 177.7 L1024.2 177.8 L1029.0 177.9 L1033.6 178.0 L1038.3 178.1 L1043.0 178.2 L1047.6 178.3 L1052.3 178.4 L1056.9 178.5 L1061.5 178.6 L1066.1 178.7 L1070.7 178.8 L1075.2 178.9 L1079.8 179.0 L1084.3 179.1 L1088.8 179.3 L1093.3 179.4 L1097.8 179.5 L1102.3 179.6 L1106.7 179.7 L1111.2 179.9 L1115.6 180.0 L1120.0 180.1 L1124.4 180.2 L1128.7 180.3 L1133.1 180.5 L1137.4 180.6 L1141.7 180.7 L1146.0 180.9 L1150.3 181.0 L1154.6 181.1 L1158.8 181.3 L1163.0 181.4 L1167.2 181.5 L1171.4 181.7 L1175.5 181.8 L1179.7 182.0 L1183.8 182.1 L1187.9 182.2 L1192.0 182.4 L1196.0 182.5 L1200.1 182.7 L1204.1 182.8 L1209.4 183.0 L1214.7 183.2 L1220.0 183.4 L1225.2 183.7 L1230.3 183.9 L1235.5 184.1 L1240.6 184.3 L1245.6 184.5 L1250.6 184.7 L1255.6 184.9 L1260.5 185.2 L1265.4 185.4 L1270.3 185.6 L1275.1 185.8 L1279.8 186.1 L1284.6 186.3 L1289.2 186.5 L1293.9 186.8 L1298.5 187.0 L1303.0 187.2 L1307.5 187.5 L1312.0 187.7 L1316.4 188.0 L1320.7 188.2 L1325.0 188.5 L1329.3 188.7 L1333.5 189.0 L1337.7 189.2 L1341.8 189.5 L1345.9 189.7 L1349.9 190.0 L1354.9 190.3 L1359.8 190.6 L1364.6 191.0 L1369.4 191.3 L1374.0 191.6 L1378.6 192.0 L1383.1 192.3 L1387.6 192.7 L1391.9 193.0 L1396.2 193.4 L1400.4 193.7 L1402.8 193.9"/>
<path d="M109.0 45.8 L113.9 45.6 L118.9 45.3 L123.9 45.1 L129.0 44.9 L134.1 44.6 L139.2 44.4 L144.4 44.1 L149.7 43.9 L155.0 43.7 L160.3 43.5 L164.3 43.3 L168.4 43.1 L172.5 43.0 L176.6 42.8 L180.7 42.6 L184.8 42.5 L189.0 42.3 L193.2 42.1 L197.4 42.0 L201.6 41.8 L205.9 41.7 L210.1 41.5 L214.4 41.4 L218.7 41.2 L223.1 41.1 L227.4 40.9 L231.8 40.8 L236.2 40.6 L240.6 40.5 L245.1 40.3 L249.6 40.2 L254.0 40.0 L258.5 39.9 L263.1 39.8 L267.6 39.6 L272.2 39.5 L276.7 39.3 L281.3 39.2 L286.0 39.1 L290.6 39.0 L295.2 38.8 L299.9 38.7 L304.6 38.6 L309.3 38.4 L314.0 38.3 L318.8 38.2 L323.5 38.1 L328.3 38.0 L333.1 37.8 L337.9 37.7 L342.7 37.6 L347.6 37.5 L352.4 37.4 L357.3 37.3 L362.2 37.2 L367.1 37.1 L372.0 37.0 L376.9 36.8 L381.9 36.7 L386.8 36.6 L391.8 36.5 L396.8 36.4 L401.8 36.4 L406.8 36.3 L411.9 36.2 L416.9 36.1 L421.9 36.0 L427.0 35.9 L432.1 35.8 L437.2 35.7 L442.3 35.6 L447.4 35.6 L452.5 35.5 L457.7 35.4 L462.8 35.3 L468.0 35.2 L473.1 35.2 L478.3 35.1 L483.5 35.0 L488.7 34.9 L493.9 34.9 L499.1 34.8 L504.4 34.7 L509.6 34.7 L514.8 34.6 L520.1 34.6 L525.4 34.5 L530.6 34.4 L535.9 34.4 L541.2 34.3 L546.5 34.3 L551.8 34.2 L557.1 34.2 L562.4 34.1 L567.7 34.1 L573.1 34.0 L578.4 34.0 L583.7 34.0 L589.1 33.9 L594.4 33.9 L599.8 33.8 L605.2 33.8 L610.5 33.8 L615.9 33.8 L621.3 33.7 L626.6 33.7 L632.0 33.7 L637.4 33.6 L642.8 33.6 L648.2 33.6 L653.6 33.6 L659.0 33.6 L664.4 33.5 L669.8 33.5 L675.2 33.5 L680.6 33.5 L686.0 33.5 L691.4 33.5 L696.8 33.5 L702.2 33.5 L707.6 33.5 L713.1 33.5 L718.5 33.5 L723.9 33.5 L729.3 33.5 L734.7 33.5 L740.1 33.5 L745.5 33.5 L750.9 33.5 L756.3 33.5 L761.7 33.5 L767.1 33.6 L772.5 33.6 L777.9 33.6 L783.3 33.6 L788.7 33.6 L794.1 33.7 L799.5 33.7 L804.9 33.7 L810.2 33.7 L815.6 33.8 L821.0 33.8 L826.3 33.8 L831.7 33.9 L837.1 33.9 L842.4 33.9 L847.8 34.0 L853.1 34.0 L858.4 34.1 L863.8 34.1 L869.1 34.2 L874.4 34.2 L879.7 34.2 L885.0 34.3 L890.3 34.4 L895.6 34.4 L900.8 34.5 L906.1 34.5 L911.4 34.6 L916.6 34.6 L921.9 34.7 L927.1 34.8 L932.3 34.8 L937.5 34.9 L942.7 35.0 L947.9 35.0 L953.1 35.1 L958.3 35.2 L963.5 35.3 L968.6 35.3 L973.8 35.4 L978.9 35.5 L984.0 35.6 L989.1 35.7 L994.2 35.7 L999.3 35.8 L1004.4 35.9 L1009.5 36.0 L1014.5 36.1 L1019.5 36.2 L1024.6 36.3 L1029.6 36.4 L1034.6 36.5 L1039.6 36.6 L1044.5 36.7 L1049.5 36.8 L1054.4 36.9 L1059.4 37.0 L1064.3 37.1 L1069.2 37.2 L1074.0 37.3 L1078.9 37.4 L1083.8 37.5 L1088.6 37.6 L1093.4 37.8 L1098.2 37.9 L1103.0 38.0 L1107.8 38.1 L1112.5 38.2 L1117.3 38.4 L1122.0 38.5 L1126.7 38.6 L1131.4 38.7 L1136.0 38.9 L1140.7 39.0 L1145.3 39.1 L1149.9 39.3 L1154.5 39.4 L1159.1 39.5 L1163.6 39.7 L1168.2 39.8 L1172.7 39.9 L1177.2 40.1 L1181.7 40.2 L1186.1 40.4 L1190.5 40.5 L1195.0 40.7 L1199.4 40.8 L1203.7 41.0 L1208.1 41.1 L1212.4 41.3 L1216.7 41.4 L1221.0 41.6 L1225.3 41.7 L1229.5 41.9 L1233.8 42.0 L1238.0 42.2 L1242.1 42.4 L1246.3 42.5 L1250.4 42.7 L1254.5 42.8 L1258.6 43.0 L1262.7 43.2 L1266.7 43.3 L1270.7 43.5 L1276.1 43.7 L1281.3 44.0 L1286.6 44.2 L1291.8 44.4 L1296.9 44.7 L1302.0 44.9 L1307.1 45.2 L1312.1 45.4 L1317.0 45.6 L1322.0 45.9 L1326.8 46.1 L1331.7 46.4 L1336.5 46.6 L1341.2 46.9 L1345.9 47.2 L1350.5 47.4 L1355.1 47.7 L1359.6 47.9 L1364.1 48.2 L1368.6 48.5 L1373.0 48.7 L1377.3 49.0 L1381.6 49.3 L1385.8 49.5 L1390.0 49.8 L1394.2 50.1 L1398.3 50.4 L1402.3 50.7"/>
<path d="M714.9 709.8 L710.6 710.2 L706.4 710.5 L702.2 710.6 L699.2 710.6"/>
<path d="M714.9 709.8 L709.6 710.0 L704.3 710.1 L699.0 710.2 L693.7 710.2 L688.4 710.1 L683.1 710.1 L677.8 709.9 L672.6 709.7 L667.3 709.5 L664.6 709.4"/>
<path d="M714.9 709.8 L709.8 709.8 L704.7 709.8 L699.7 709.8 L694.6 709.7 L689.5 709.6 L684.5 709.5 L679.4 709.3 L674.4 709.2 L669.3 709.0 L664.2 708.7 L659.2 708.4 L654.1 708.2 L649.1 707.8 L644.0 707.5 L639.0 707.1 L633.9 706.7 L628.9 706.2 L623.8 705.8 L618.8 705.3 L613.8 704.7 L608.7 704.2 L603.7 703.6 L598.7 703.0 L593.6 702.3 L588.6 701.6 L583.6 700.9 L578.6 700.2 L573.6 699.4 L568.5 698.7 L563.5 697.8 L558.5 697.0 L553.5 696.1 L548.6 695.2 L543.6 694.2 L538.6 693.3 L533.6 692.3 L528.6 691.3 L523.7 690.2 L518.7 689.1 L513.7 688.0 L508.8 686.9 L503.8 685.7 L498.9 684.5 L493.9 683.2 L489.0 682.0 L484.1 680.7 L479.2 679.4 L474.3 678.0 L471.0 677.1"/>
<path d="M714.9 709.8 L710.1 709.7 L705.3 709.6 L700.5 709.4 L695.6 709.2 L690.8 709.0 L686.0 708.7 L681.2 708.5 L676.4 708.2 L671.6 707.8 L666.9 707.5 L662.1 707.1 L657.3 706.7 L652.5 706.2 L647.7 705.7 L642.9 705.2 L638.1 704.7 L633.3 704.1 L628.5 703.5 L623.7 702.9 L619.0 702.3 L614.2 701.6 L609.4 700.9 L604.6 700.1 L599.9 699.4 L595.1 698.6 L590.4 697.7 L585.6 696.9 L580.8 696.0 L576.1 695.1 L571.3 694.1 L566.6 693.2 L561.9 692.2 L557.1 691.1 L552.4 690.1 L547.7 689.0 L542.9 687.9 L538.2 686.7 L533.5 685.5 L528.8 684.3 L524.1 683.1 L519.4 681.8 L514.7 680.5 L510.0 679.2 L505.3 677.9 L500.7 676.5 L496.0 675.1 L491.3 673.6 L486.7 672.2 L482.0 670.7 L477.4 669.1 L472.7 667.6 L468.1 666.0 L463.5 664.4 L458.8 662.7 L454.2 661.0 L449.6 659.3 L445.0 657.6 L440.4 655.8 L435.9 654.1 L431.3 652.2 L426.7 650.4 L422.2 648.5 L417.6 646.6 L413.1 644.7 L408.6 642.7 L404.0 640.7 L399.5 638.7 L395.0 636.6 L390.5 634.5 L386.0 632.4 L381.6 630.3 L377.1 628.1 L372.6 625.9 L368.2 623.7 L363.8 621.4 L359.3 619.1 L354.9 616.8 L350.5 614.5 L346.1 612.1 L341.8 609.7 L337.4 607.3 L333.0 604.8 L328.7 602.3 L324.4 599.8 L320.0 597.3 L315.7 594.7 L311.4 592.1 L307.2 589.4 L302.9 586.8 L298.6 584.1 L294.4 581.4 L290.2 578.6 L285.9 575.8 L281.7 573.0 L277.6 570.2 L273.4 567.3 L269.2 564.4 L265.1 561.5 L260.9 558.6 L256.8 555.6 L252.7 552.6 L248.6 549.5 L244.6 546.5 L240.5 543.4 L236.5 540.3 L232.5 537.1 L228.5 533.9 L224.5 530.7 L220.5 527.5 L216.6 524.2 L212.6 520.9 L208.7 517.6 L204.8 514.3 L200.9 510.9 L197.1 507.5 L193.2 504.1 L189.4 500.6 L185.6 497.1 L181.8 493.6 L178.0 490.1 L174.3 486.5 L170.5 482.9 L166.8 479.3 L163.1 475.7 L159.5 472.0 L155.8 468.3 L152.2 464.5 L148.6 460.8 L145.0 457.0 L141.4 453.2 L137.9 449.4 L134.3 445.5 L130.8 441.6 L127.4 437.7 L123.9 433.8 L120.5 429.8 L117.1 425.8 L113.7 421.8 L110.3 417.8 L108.1 415.0"/>
<path d="M714.9 709.8 L710.5 709.5 L706.2 709.2 L701.8 708.8 L697.5 708.4 L693.2 707.9 L688.8 707.4 L684.5 706.8 L680.2 706.1 L675.8 705.5 L671.5 704.7 L667.2 703.9 L662.8 703.1 L658.5 702.2 L654.2 701.2 L649.9 700.2 L645.6 699.2 L641.2 698.1 L636.9 696.9 L632.6 695.7 L628.3 694.5 L624.0 693.2 L619.7 691.8 L615.4 690.4 L611.2 688.9 L606.9 687.4 L602.6 685.9 L598.3 684.2 L594.1 682.6 L589.8 680.9 L585.6 679.1 L581.3 677.3 L577.1 675.4 L572.9 673.4 L568.6 671.5 L564.4 669.4 L560.2 667.4 L556.0 665.2 L551.8 663.0 L547.6 660.8 L543.4 658.5 L539.3 656.2 L535.1 653.8 L531.0 651.3 L526.8 648.8 L522.7 646.3 L518.6 643.7 L514.4 641.0 L510.3 638.3 L506.2 635.6 L502.2 632.8 L498.1 629.9 L494.0 627.0 L490.0 624.0 L485.9 621.0 L481.9 618.0 L477.9 614.8 L473.9 611.7 L469.9 608.5 L466.0 605.2 L462.0 601.9 L458.1 598.5 L454.1 595.1 L450.2 591.6 L446.3 588.1 L442.4 584.5 L438.5 580.9 L434.7 577.2 L431.8 574.4 L428.9 571.6 L426.1 568.7 L423.2 565.9 L420.4 563.0 L417.5 560.0 L414.7 557.1 L411.9 554.1 L409.1 551.0 L406.3 548.0 L403.5 544.9 L400.7 541.8 L398.0 538.7 L395.2 535.5 L392.5 532.3 L389.7 529.1 L387.0 525.9 L384.3 522.6 L381.6 519.3 L378.9 516.0 L376.3 512.6 L373.6 509.3 L370.9 505.8 L368.3 502.4 L365.7 498.9 L363.1 495.5 L360.5 491.9 L357.9 488.4 L355.3 484.8 L352.7 481.2 L350.2 477.6 L347.6 473.9 L345.1 470.2 L342.6 466.5 L340.1 462.8 L337.6 459.0 L335.1 455.3 L332.7 451.4 L330.2 447.6 L327.8 443.7 L325.4 439.9 L323.0 435.9 L320.6 432.0 L318.3 428.0 L315.9 424.0 L313.6 420.0 L311.2 416.0 L308.9 411.9 L306.6 407.8 L304.4 403.7 L302.1 399.5 L299.9 395.4 L297.6 391.2 L295.4 386.9 L293.2 382.7 L291.1 378.4 L288.9 374.1 L286.8 369.8 L284.6 365.5 L282.5 361.1 L280.4 356.7 L278.4 352.3 L276.3 347.9 L274.3 343.4 L272.3 339.0 L270.3 334.5 L268.3 329.9 L266.3 325.4 L264.4 320.8 L262.5 316.2 L260.6 311.6 L258.7 307.0 L256.8 302.3 L255.0 297.7 L253.1 293.0 L251.3 288.3 L249.5 283.5 L247.8 278.8 L246.0 274.0 L244.3 269.2 L242.6 264.4 L240.9 259.5 L239.2 254.7 L237.6 249.8 L236.0 244.9 L234.4 240.0 L232.8 235.1 L231.2 230.1 L229.7 225.2 L228.2 220.2 L226.7 215.2 L225.2 210.2 L223.8 205.1 L222.3 200.1 L220.9 195.0 L219.6 189.9 L218.2 184.8 L216.9 179.7 L215.5 174.6 L214.3 169.5 L213.0 164.3 L211.7 159.1 L210.5 153.9 L209.3 148.7 L208.2 143.5 L207.0 138.3 L205.9 133.0 L204.8 127.8 L203.7 122.5 L202.6 117.2 L201.6 112.0 L200.6 106.7 L199.6 101.3 L198.7 96.0 L197.7 90.7 L196.8 85.3 L196.0 80.0 L195.1 74.6 L194.3 69.2 L193.5 63.9 L192.7 58.5 L191.9 53.1 L191.2 47.7 L190.5 42.2 L189.8 36.8 L189.1 31.4 L188.5 26.0 L187.9 20.5 L187.3 15.1 L186.8 9.6 L186.3 4.1 L185.7 -1.3 L185.3 -6.8 L185.1 -8.6"/>
<path d="M714.9 709.8 L719.1 709.2 L723.3 708.4 L727.5 707.5 L731.7 706.4 L735.9 705.2 L740.2 703.8 L744.4 702.2 L748.6 700.5 L752.8 698.6 L757.0 696.6 L760.6 694.8 L764.1 692.8 L767.7 690.7 L771.3 688.5 L774.9 686.1 L778.4 683.7 L782.0 681.1 L785.5 678.4 L789.1 675.7 L792.6 672.7 L796.1 669.7 L799.6 666.6 L803.1 663.3 L806.0 660.5 L808.9 657.6 L811.8 654.7 L814.7 651.6 L817.6 648.5 L820.5 645.3 L823.4 642.0 L826.2 638.6 L829.1 635.2 L831.9 631.6 L834.7 628.0 L837.6 624.3 L840.4 620.6 L843.2 616.7 L846.0 612.8 L848.7 608.8 L851.5 604.7 L854.3 600.5 L856.5 597.1 L858.6 593.7 L860.8 590.2 L863.0 586.6 L865.2 583.0 L867.3 579.4 L869.5 575.7 L871.6 572.0 L873.7 568.2 L875.8 564.3 L878.0 560.4 L880.1 556.5 L882.2 552.5 L884.2 548.4 L886.3 544.3 L888.4 540.1 L890.4 535.9 L892.5 531.7 L894.5 527.4 L896.5 523.0 L898.5 518.6 L900.5 514.2 L902.5 509.7 L904.5 505.2 L906.4 500.6 L908.4 495.9 L910.3 491.2 L912.3 486.5 L914.2 481.7 L916.1 476.9 L918.0 472.0 L919.8 467.1 L921.7 462.1 L923.1 458.3 L924.5 454.5 L925.8 450.7 L927.2 446.9 L928.6 443.0 L929.9 439.1 L931.3 435.2 L932.6 431.2 L933.9 427.3 L935.2 423.3 L936.5 419.2 L937.8 415.2 L939.1 411.1 L940.4 407.0 L941.7 402.9 L942.9 398.7 L944.2 394.6 L945.4 390.4 L946.7 386.2 L947.9 381.9 L949.1 377.6 L950.3 373.3 L951.5 369.0 L952.7 364.7 L953.9 360.3 L955.1 355.9 L956.2 351.5 L957.4 347.1 L958.5 342.6 L959.7 338.2 L960.8 333.7 L961.9 329.1 L963.0 324.6 L964.1 320.0 L965.2 315.4 L966.2 310.8 L967.3 306.2 L968.3 301.5 L969.4 296.8 L970.4 292.2 L971.4 287.4 L972.4 282.7 L973.4 277.9 L974.4 273.2 L975.4 268.4 L976.3 263.5 L977.3 258.7 L978.2 253.9 L979.1 249.0 L980.0 244.1 L980.9 239.2 L981.8 234.2 L982.7 229.3 L983.6 224.3 L984.4 219.3 L985.3 214.3 L986.1 209.3 L986.9 204.3 L987.7 199.2 L988.5 194.2 L989.3 189.1 L990.1 184.0 L990.8 178.9 L991.6 173.7 L992.3 168.6 L993.0 163.4 L993.7 158.3 L994.4 153.1 L995.1 147.9 L995.7 142.7 L996.4 137.4 L997.0 132.2 L997.7 126.9 L998.3 121.7 L998.9 116.4 L999.5 111.1 L1000.0 105.8 L1000.6 100.5 L1001.1 95.2 L1001.7 89.8 L1002.2 84.5 L1002.7 79.1 L1003.2 73.8 L1003.7 68.4 L1004.1 63.0 L1004.6 57.6 L1005.0 52.2 L1005.4 46.8 L1005.8 41.4 L1006.2 36.0 L1006.6 30.5 L1007.0 25.1 L1007.3 19.6 L1007.6 14.2 L1008.0 8.7 L1008.3 3.3 L1008.6 -2.2 L1008.9 -7.7"/>
<path d="M714.9 709.8 L720.2 709.6 L725.4 709.3 L730.7 708.9 L736.0 708.6 L741.3 708.1 L746.6 707.6 L751.9 707.1 L757.2 706.5 L762.4 705.9 L767.7 705.2 L773.0 704.4 L777.0 703.8 L780.9 703.2 L784.9 702.5 L788.8 701.9 L792.8 701.2 L796.7 700.4 L800.7 699.6 L804.6 698.9 L808.5 698.0 L812.5 697.2 L816.4 696.3 L820.3 695.4 L824.3 694.4 L828.2 693.5 L832.1 692.5 L836.0 691.4 L840.0 690.4 L843.9 689.3 L847.8 688.2 L851.7 687.0 L855.6 685.8 L859.5 684.6 L863.4 683.4 L867.3 682.1 L871.2 680.8 L875.0 679.5 L878.9 678.2 L882.8 676.8 L886.7 675.4 L890.5 673.9 L894.4 672.5 L898.2 671.0 L902.1 669.5 L905.9 667.9 L909.8 666.3 L913.6 664.7 L917.4 663.1 L921.3 661.4 L925.1 659.7 L928.9 658.0 L932.7 656.2 L936.5 654.4 L940.3 652.6 L944.1 650.8 L947.9 648.9 L951.6 647.0 L955.4 645.0 L959.2 643.1 L962.9 641.1 L966.7 639.1 L970.4 637.0 L974.1 634.9 L977.8 632.8 L981.6 630.7 L985.3 628.5 L989.0 626.3 L992.7 624.1 L996.3 621.9 L1000.0 619.6 L1003.7 617.3 L1007.3 614.9 L1011.0 612.6 L1014.6 610.2 L1018.3 607.7 L1021.9 605.3 L1025.5 602.8 L1029.1 600.3 L1032.7 597.7 L1036.3 595.2 L1039.8 592.6 L1043.4 589.9 L1047.0 587.3 L1050.5 584.6 L1054.0 581.9 L1057.5 579.1 L1061.1 576.4 L1064.6 573.6 L1068.0 570.7 L1071.5 567.9 L1075.0 565.0 L1078.4 562.1 L1081.9 559.1 L1085.3 556.2 L1088.7 553.2 L1092.1 550.1 L1095.5 547.1 L1098.9 544.0 L1102.2 540.9 L1105.6 537.8 L1108.9 534.6 L1112.3 531.4 L1115.6 528.2 L1118.9 524.9 L1122.2 521.6 L1125.4 518.3 L1128.7 515.0 L1131.9 511.6 L1135.2 508.2 L1138.4 504.8 L1141.6 501.4 L1144.7 497.9 L1147.9 494.4 L1151.1 490.9 L1154.2 487.3 L1157.3 483.7 L1160.4 480.1 L1163.5 476.5 L1166.6 472.8 L1169.6 469.1 L1172.7 465.4 L1175.7 461.7 L1178.7 457.9 L1181.7 454.1 L1184.7 450.3 L1187.6 446.4 L1190.6 442.5 L1193.5 438.6 L1196.4 434.7 L1199.3 430.8 L1202.1 426.8 L1205.0 422.8 L1207.8 418.7 L1210.6 414.7 L1213.4 410.6 L1216.1 406.5 L1218.9 402.4 L1221.6 398.2 L1224.3 394.0 L1227.0 389.8 L1229.7 385.6 L1232.3 381.4 L1234.9 377.1 L1237.5 372.8 L1240.1 368.4 L1242.7 364.1 L1245.2 359.7 L1247.7 355.3 L1250.2 350.9 L1252.7 346.5 L1255.2 342.0 L1257.6 337.5 L1260.0 333.0 L1262.4 328.5 L1264.7 323.9 L1267.1 319.3 L1269.4 314.7 L1271.7 310.1 L1274.0 305.5 L1276.2 300.8 L1278.4 296.1 L1280.6 291.4 L1282.8 286.7 L1284.9 282.0 L1287.1 277.2 L1289.1 272.4 L1291.2 267.6 L1293.3 262.8 L1295.3 257.9 L1297.3 253.1 L1299.3 248.2 L1301.2 243.3 L1303.1 238.4 L1305.0 233.4 L1306.9 228.5 L1308.7 223.5 L1310.5 218.5 L1312.3 213.5 L1314.1 208.5 L1315.8 203.4 L1317.5 198.4 L1319.2 193.3 L1320.8 188.2 L1322.4 183.1 L1324.0 178.0 L1325.6 172.9 L1327.1 167.7 L1328.6 162.5 L1330.1 157.4 L1331.6 152.2 L1333.0 147.0 L1334.4 141.7 L1335.7 136.5 L1337.1 131.3 L1338.4 126.0 L1339.6 120.7 L1340.9 115.4 L1342.1 110.2 L1343.3 104.8 L1344.4 99.5 L1345.6 94.2 L1346.7 88.9 L1347.7 83.5 L1348.8 78.2 L1349.8 72.8 L1350.7 67.4 L1351.7 62.0 L1352.6 56.6 L1353.5 51.2 L1354.3 45.8 L1355.1 40.4 L1355.9 35.0 L1356.7 29.5 L1357.4 24.1 L1358.1 18.6 L1358.8 13.2 L1359.4 7.7 L1360.0 2.3 L1360.6 -3.2 L1361.1 -8.7"/>
<path d="M714.9 709.8 L719.9 709.7 L725.0 709.6 L730.1 709.5 L735.1 709.4 L740.2 709.2 L745.2 709.0 L750.3 708.8 L755.4 708.5 L760.4 708.2 L765.5 707.9 L770.5 707.6 L775.6 707.2 L780.6 706.8 L785.7 706.4 L790.7 705.9 L795.8 705.4 L800.8 704.9 L805.9 704.4 L810.9 703.8 L816.0 703.2 L821.0 702.5 L826.0 701.9 L831.1 701.2 L836.1 700.5 L841.1 699.7 L846.1 698.9 L851.1 698.1 L856.2 697.3 L861.2 696.4 L866.2 695.5 L871.2 694.6 L876.2 693.6 L881.2 692.6 L886.2 691.6 L891.1 690.6 L896.1 689.5 L901.1 688.4 L906.1 687.3 L911.0 686.1 L916.0 684.9 L920.9 683.7 L925.9 682.4 L930.8 681.1 L935.8 679.8 L940.7 678.5 L945.6 677.1 L950.5 675.7 L955.5 674.3 L960.4 672.9 L965.3 671.4 L970.1 669.9 L975.0 668.3 L979.9 666.7 L984.8 665.1 L989.6 663.5 L994.5 661.9 L999.3 660.2 L1004.2 658.5 L1009.0 656.7 L1013.8 654.9 L1018.6 653.1 L1023.4 651.3 L1028.2 649.4 L1033.0 647.5 L1037.8 645.6 L1042.6 643.7 L1047.3 641.7 L1052.1 639.7 L1056.8 637.6 L1061.5 635.5 L1066.3 633.5 L1071.0 631.3 L1075.7 629.2 L1080.3 627.0 L1085.0 624.8 L1089.7 622.5 L1094.3 620.2 L1099.0 617.9 L1103.6 615.6 L1108.2 613.2 L1112.8 610.9 L1117.4 608.4 L1122.0 606.0 L1126.6 603.5 L1131.1 601.0 L1135.7 598.5 L1140.2 595.9 L1144.7 593.3 L1149.2 590.7 L1153.7 588.0 L1158.2 585.4 L1162.6 582.6 L1167.1 579.9 L1171.5 577.1 L1175.9 574.3 L1180.3 571.5 L1184.7 568.7 L1189.1 565.8 L1193.4 562.9 L1197.8 559.9 L1202.1 557.0 L1206.4 554.0 L1210.7 550.9 L1215.0 547.9 L1219.2 544.8 L1223.4 541.7 L1227.7 538.5 L1231.9 535.4 L1236.1 532.2 L1240.2 529.0 L1244.4 525.7 L1248.5 522.4 L1252.6 519.1 L1256.7 515.8 L1260.8 512.4 L1264.8 509.0 L1268.9 505.6 L1272.9 502.1 L1276.9 498.7 L1280.9 495.2 L1284.8 491.6 L1288.8 488.1 L1292.7 484.5 L1296.6 480.9 L1300.4 477.2 L1304.3 473.6 L1308.1 469.9 L1311.9 466.2 L1315.7 462.4 L1319.5 458.6 L1323.2 454.8 L1326.9 451.0 L1330.6 447.2 L1334.3 443.3 L1337.9 439.4 L1341.5 435.4 L1345.1 431.5 L1348.7 427.5 L1352.2 423.5 L1355.8 419.5 L1359.3 415.4 L1362.7 411.3 L1366.2 407.2 L1369.6 403.1 L1373.0 398.9 L1376.4 394.7 L1379.7 390.5 L1383.0 386.3 L1386.3 382.0 L1389.6 377.7 L1392.8 373.4 L1396.0 369.1 L1399.2 364.7 L1402.3 360.3"/>
<path d="M714.9 709.8 L719.7 709.9 L724.5 709.9 L729.3 709.9 L734.1 709.9 L738.9 709.8 L743.7 709.8 L748.5 709.7 L753.3 709.5 L758.1 709.4 L762.9 709.2 L767.7 708.9 L772.5 708.7 L777.3 708.4 L782.0 708.1 L786.8 707.8 L791.6 707.4 L796.4 707.0 L801.2 706.6 L806.0 706.1 L810.8 705.6 L815.5 705.1 L820.3 704.6 L825.1 704.0"/>
<path d="M714.9 709.8 L719.2 710.0 L723.5 710.2 L727.9 710.3 L732.2 710.4 L736.6 710.4 L740.9 710.3 L745.2 710.2 L748.5 710.1"/>
<path d="M714.9 709.8 L719.0 710.6 L721.8 710.7"/>
<path d="M714.9 709.8 L711.0 708.4 L707.3 706.5 L704.0 704.2 L700.7 701.5 L697.6 698.7 L694.9 695.7 L692.1 692.4 L689.6 689.2 L687.2 685.7 L684.7 682.0 L682.5 678.4 L680.3 674.7 L678.2 670.7 L676.3 667.1 L674.4 663.3 L672.5 659.3 L670.6 655.2 L668.7 650.9 L667.1 647.2 L665.6 643.3 L664.0 639.2 L662.4 635.1 L660.8 630.9 L659.2 626.5 L657.7 622.0 L656.4 618.2 L655.1 614.3 L653.8 610.3 L652.5 606.2 L651.3 602.1 L650.0 597.9 L648.7 593.6 L647.5 589.2 L646.2 584.7 L645.0 580.2 L643.7 575.6 L642.5 570.9 L641.3 566.1 L640.0 561.3 L639.1 557.3 L638.1 553.3 L637.1 549.3 L636.2 545.2 L635.2 541.1 L634.3 536.9 L633.3 532.6 L632.4 528.3 L631.4 524.0 L630.5 519.6 L629.6 515.2 L628.7 510.7 L627.8 506.2 L626.9 501.6 L625.9 497.0 L625.0 492.3 L624.2 487.5 L623.3 482.8 L622.4 477.9 L621.5 473.1 L620.6 468.1 L619.8 463.2 L618.9 458.2 L618.1 453.1 L617.2 448.0 L616.4 442.8 L615.6 437.6 L614.7 432.4 L614.1 428.4 L613.5 424.5 L612.9 420.4 L612.3 416.4 L611.7 412.3 L611.1 408.2 L610.5 404.1 L609.9 400.0 L609.4 395.8 L608.8 391.6 L608.2 387.4 L607.6 383.2 L607.1 378.9 L606.5 374.6 L605.9 370.3 L605.4 366.0 L604.8 361.6 L604.3 357.3 L603.8 352.8 L603.2 348.4 L602.7 344.0 L602.2 339.5 L601.7 335.0 L601.1 330.5 L600.6 325.9 L600.1 321.4 L599.6 316.8 L599.1 312.2 L598.6 307.6 L598.1 302.9 L597.7 298.3 L597.2 293.6 L596.7 288.9 L596.2 284.1 L595.8 279.4 L595.3 274.6 L594.9 269.8 L594.4 265.0 L594.0 260.2 L593.6 255.3 L593.1 250.5 L592.7 245.6 L592.3 240.7 L591.9 235.7 L591.5 230.8 L591.0 225.8 L590.6 220.9 L590.3 215.9 L589.9 210.9 L589.5 205.8 L589.1 200.8 L588.7 195.7 L588.4 190.6 L588.0 185.5 L587.7 180.4 L587.3 175.3 L587.0 170.2 L586.6 165.0 L586.3 159.8 L586.0 154.7 L585.7 149.5 L585.4 144.3 L585.1 139.0 L584.8 133.8 L584.5 128.5 L584.2 123.3 L583.9 118.0 L583.6 112.7 L583.4 107.4 L583.1 102.1 L582.8 96.8 L582.6 91.5 L582.3 86.1 L582.1 80.8 L581.9 75.4 L581.7 70.0 L581.4 64.6 L581.2 59.3 L581.0 53.9 L580.8 48.4 L580.6 43.0 L580.4 37.6 L580.3 32.2 L580.1 26.7 L579.9 21.3 L579.8 15.8 L579.6 10.4 L579.5 4.9 L579.3 -0.5 L579.2 -6.0 L579.2 -7.8" stroke="#de3b04" stroke-width="2.9"/>
<path d="M1402.0 379.1 L1398.8 383.3 L1395.6 387.5 L1392.3 391.6 L1389.1 395.8 L1385.7 399.9 L1382.4 403.9 L1379.0 408.0 L1375.6 412.0 L1372.2 416.1 L1368.8 420.1 L1365.3 424.0 L1361.8 428.0 L1358.3 431.9 L1354.7 435.8 L1351.1 439.7 L1347.5 443.6 L1343.8 447.5 L1340.2 451.3 L1336.5 455.1 L1332.7 458.9 L1329.0 462.6 L1325.2 466.4 L1321.4 470.1 L1317.6 473.8 L1313.7 477.4 L1309.8 481.1 L1305.9 484.7 L1302.0 488.3 L1298.0 491.8 L1294.1 495.4 L1290.1 498.9 L1286.0 502.4 L1282.0 505.9 L1277.9 509.3 L1273.8 512.7 L1269.7 516.1 L1265.5 519.5 L1261.3 522.9 L1257.1 526.2 L1252.9 529.5 L1248.7 532.7 L1244.4 536.0 L1240.1 539.2 L1235.8 542.4 L1231.4 545.6 L1227.1 548.7 L1222.7 551.8 L1218.3 554.9 L1213.9 558.0 L1209.4 561.0 L1205.0 564.0 L1200.5 567.0 L1196.0 569.9 L1191.5 572.8 L1186.9 575.7 L1182.3 578.6 L1177.7 581.4 L1173.1 584.2 L1168.5 587.0 L1163.9 589.8 L1159.2 592.5 L1154.5 595.2 L1149.8 597.9 L1145.1 600.5 L1140.3 603.1 L1135.6 605.7 L1130.8 608.2 L1126.0 610.8 L1121.2 613.3 L1116.4 615.7 L1111.5 618.2 L1106.6 620.6 L1101.8 622.9 L1096.9 625.3 L1091.9 627.6 L1087.0 629.9 L1082.1 632.1 L1077.1 634.4 L1072.1 636.6 L1067.1 638.7 L1062.1 640.9 L1057.1 643.0 L1052.1 645.0 L1047.0 647.1 L1041.9 649.1 L1036.9 651.1 L1031.8 653.0 L1026.7 654.9 L1021.5 656.8 L1016.4 658.7 L1011.3 660.5 L1006.1 662.3 L1000.9 664.1 L995.7 665.8 L990.5 667.5 L985.3 669.1 L980.1 670.8 L974.9 672.4 L969.6 674.0 L964.4 675.5 L959.1 677.0 L953.8 678.5 L948.6 679.9 L943.3 681.3 L938.0 682.7 L932.6 684.0 L927.3 685.4 L922.0 686.6 L916.6 687.9 L911.3 689.1 L905.9 690.3 L900.6 691.4 L895.2 692.5 L889.8 693.6 L884.4 694.7 L879.0 695.7 L873.6 696.7 L868.2 697.6 L862.8 698.6 L857.4 699.4 L851.9 700.3 L846.5 701.1 L841.0 701.9 L835.6 702.7 L830.1 703.4 L824.7 704.1 L819.2 704.7 L813.8 705.3 L808.3 705.9 L802.8 706.5 L797.3 707.0 L791.9 707.5 L786.4 707.9 L780.9 708.4 L775.4 708.7 L769.9 709.1 L764.4 709.4 L758.9 709.7 L753.4 709.9 L747.9 710.2 L742.4 710.3 L736.9 710.5 L731.4 710.6 L725.9 710.7 L720.4 710.8 L714.9 710.8 L709.4 710.8 L703.8 710.7 L698.3 710.6 L692.8 710.5 L687.3 710.3 L681.8 710.2 L676.3 709.9 L670.8 709.7 L665.3 709.4 L659.8 709.1 L654.3 708.7 L648.8 708.4 L643.4 707.9 L637.9 707.5 L632.4 707.0 L626.9 706.5 L621.4 705.9 L616.0 705.3 L610.5 704.7 L605.0 704.1 L599.6 703.4 L594.1 702.7 L588.7 701.9 L583.2 701.1 L577.8 700.3 L572.4 699.4 L566.9 698.6 L561.5 697.6 L556.1 696.7 L550.7 695.7 L545.3 694.7 L539.9 693.6 L534.5 692.5 L529.2 691.4 L523.8 690.3 L518.4 689.1 L513.1 687.9 L507.7 686.6 L502.4 685.4 L497.1 684.0 L491.8 682.7 L486.5 681.3 L481.2 679.9 L475.9 678.5 L470.6 677.0 L465.3 675.5 L460.1 674.0 L454.8 672.4 L449.6 670.8 L444.4 669.1 L439.2 667.5 L434.0 665.8 L428.8 664.1 L423.6 662.3 L418.5 660.5 L413.3 658.7 L408.2 656.8 L403.1 654.9 L398.0 653.0 L392.9 651.1 L387.8 649.1 L382.7 647.1 L377.7 645.0 L372.6 643.0 L367.6 640.9 L362.6 638.7 L357.6 636.6 L352.6 634.4 L347.7 632.1 L342.7 629.9 L337.8 627.6 L332.9 625.3 L328.0 622.9 L323.1 620.6 L318.2 618.2 L313.4 615.7 L308.5 613.3 L303.7 610.8 L298.9 608.2 L294.1 605.7 L289.4 603.1 L284.6 600.5 L279.9 597.9 L275.2 595.2 L270.5 592.5 L265.9 589.8 L261.2 587.0 L256.6 584.2 L252.0 581.4 L247.4 578.6 L242.8 575.7 L238.3 572.8 L233.7 569.9 L229.2 567.0 L224.7 564.0 L220.3 561.0 L215.8 558.0 L211.4 554.9 L207.0 551.8 L202.6 548.7 L198.3 545.6 L193.9 542.4 L189.6 539.2 L185.3 536.0 L181.1 532.7 L176.8 529.5 L172.6 526.2 L168.4 522.9 L164.2 519.5 L160.1 516.1 L155.9 512.7 L151.8 509.3 L147.8 505.9 L143.7 502.4 L139.7 498.9 L135.7 495.4 L131.7 491.8 L127.7 488.3 L123.8 484.7 L119.9 481.1 L116.0 477.4 L112.1 473.8 L108.3 470.1"/>
</g>
<text x="263.5" y="1301.6" font-size="38" text-anchor="middle" fill="#000" >-10</text>
<text x="128.6" y="1145.1" font-size="38" text-anchor="end" fill="#000" >-10</text>
<text x="510.5" y="1301.6" font-size="38" text-anchor="middle" fill="#000" >-5</text>
<text x="128.6" y="898.1" font-size="38" text-anchor="end" fill="#000" >-5</text>
<text x="755.9" y="1301.6" font-size="38" text-anchor="middle" fill="#000" >0</text>
<text x="128.6" y="651.1" font-size="38" text-anchor="end" fill="#000" >0</text>
<text x="1002.9" y="1301.6" font-size="38" text-anchor="middle" fill="#000" >5</text>
<text x="128.6" y="404.1" font-size="38" text-anchor="end" fill="#000" >5</text>
<text x="1249.9" y="1301.6" font-size="38" text-anchor="middle" fill="#000" >10</text>
<text x="128.6" y="157.1" font-size="38" text-anchor="end" fill="#000" >10</text>
<text x="755.5" y="1340.2" font-size="37" text-anchor="middle" fill="#000" >X (arcsec)</text>
<text transform="translate(46.5,638.5) rotate(-90)" font-size="37" text-anchor="middle">Y (arcsec)</text>
<text x="1389.2" y="64.3" font-size="53.2" text-anchor="start" fill="#000" >Jupiter</text>
<text x="1389.3" y="133.5" font-size="33.3" text-anchor="start" fill="#000" >Date : 2016-12-15</text>
<text x="1389.3" y="175.3" font-size="33.3" text-anchor="start" fill="#000" >08:40:44 (Earth)</text>
<text x="1389.3" y="217.2" font-size="33.3" text-anchor="start" fill="#000" >07:52:29 (Target)</text>
<text x="1388.5" y="284.5" font-size="30" text-anchor="start" fill="#000" >Ephemeris :</text>
<rect x="1388.5" y="294.9" width="167.5" height="1.6" fill="#111"/>
<text x="1388" y="329.8" font-size="30" text-anchor="start" fill="#000" >d (UA)    = 5.80</text>
<text x="1389.5" y="372" font-size="30" text-anchor="start" fill="#000" style="font-family:'Liberation Serif',serif">λ</text>
<text x="1408.6" y="375.6" font-size="13" text-anchor="start" fill="#000" >sub-Earth</text>
<text x="1475.5" y="372" font-size="30" text-anchor="start" fill="#000" >(</text>
<text x="1484.8" y="359.4" font-size="14" text-anchor="start" fill="#000" >o</text>
<text x="1490.5" y="372" font-size="30" text-anchor="start" fill="#000" >)</text>
<text x="1509.5" y="372" font-size="30" text-anchor="start" fill="#000" >= -2.68</text>
<text x="1389.5" y="413.6" font-size="30" text-anchor="start" fill="#000" style="font-family:'Liberation Serif',serif">α</text>
<text x="1411.6" y="417.2" font-size="13" text-anchor="start" fill="#000" >Earth-Sun</text>
<text x="1479.7" y="413.6" font-size="30" text-anchor="start" fill="#000" >(</text>
<text x="1489" y="401" font-size="14" text-anchor="start" fill="#000" >o</text>
<text x="1494.9" y="413.6" font-size="30" text-anchor="start" fill="#000" >)</text>
<text x="1514.2" y="413.6" font-size="30" text-anchor="start" fill="#000" >= 9.38</text>
<text x="1388.7" y="455.4" font-size="30" text-anchor="start" fill="#000" >CML</text>
<text x="1455.4" y="459.6" font-size="13" text-anchor="start" fill="#000" >SIII</text>
<text x="1484.4" y="455.4" font-size="30" text-anchor="start" fill="#000" >(</text>
<text x="1493.8" y="442.8" font-size="14" text-anchor="start" fill="#000" >o</text>
<text x="1499.9" y="455.4" font-size="30" text-anchor="start" fill="#000" >)</text>
<text x="1519.4" y="455.4" font-size="30" text-anchor="start" fill="#000" >= 344</text>
<text x="1388.2" y="497.6" font-size="30" text-anchor="start" fill="#000" >LT</text>
<text x="1427.9" y="501.4" font-size="13" text-anchor="start" fill="#000" >Io</text>
<text x="1447.1" y="497.6" font-size="30" text-anchor="start" fill="#000" >(h)</text>
<text x="1491.7" y="497.6" font-size="30" text-anchor="start" fill="#000" >= 0.08</text>
<text x="1388.2" y="564.3" font-size="30" text-anchor="start" fill="#999" >HST Imaging :</text>
<rect x="1388.5" y="574.4" width="201.7" height="1.5" fill="#999"/>
<text x="1388.5" y="608.8" font-size="30" text-anchor="start" fill="#999" >STIS/FUV-MAMA</text>
<text x="1388.5" y="650.9" font-size="30" text-anchor="start" fill="#999" >Filter : F25SRF2</text>
<text x="1388.5" y="693.0" font-size="30" text-anchor="start" fill="#999" >Int. time (s) = 100</text>
<text x="1388.5" y="735.1" font-size="30" text-anchor="start" fill="#999" >FOV (") = 53.82</text>
<text x="1388.5" y="777.2" font-size="30" text-anchor="start" fill="#999" >Data : od8k16y02</text>
<text x="1427" y="930.7" font-size="35" text-anchor="start" fill="#000" >Flux</text>
<rect x="1436.6" y="946.3" width="47.100000000000136" height="307.5" fill="url(#cbg)" stroke="#000" stroke-width="2"/>
<path d="M1436.6 946.30h6.0M1483.7 946.30h-6.0 M1436.6 961.67h3.2M1483.7 961.67h-3.2 M1436.6 977.05h3.2M1483.7 977.05h-3.2 M1436.6 992.42h3.2M1483.7 992.42h-3.2 M1436.6 1007.80h6.0M1483.7 1007.80h-6.0 M1436.6 1023.17h3.2M1483.7 1023.17h-3.2 M1436.6 1038.55h3.2M1483.7 1038.55h-3.2 M1436.6 1053.92h3.2M1483.7 1053.92h-3.2 M1436.6 1069.30h6.0M1483.7 1069.30h-6.0 M1436.6 1084.67h3.2M1483.7 1084.67h-3.2 M1436.6 1100.05h3.2M1483.7 1100.05h-3.2 M1436.6 1115.42h3.2M1483.7 1115.42h-3.2 M1436.6 1130.80h6.0M1483.7 1130.80h-6.0 M1436.6 1146.17h3.2M1483.7 1146.17h-3.2 M1436.6 1161.55h3.2M1483.7 1161.55h-3.2 M1436.6 1176.92h3.2M1483.7 1176.92h-3.2 M1436.6 1192.30h6.0M1483.7 1192.30h-6.0 M1436.6 1207.67h3.2M1483.7 1207.67h-3.2 M1436.6 1223.05h3.2M1483.7 1223.05h-3.2 M1436.6 1238.42h3.2M1483.7 1238.42h-3.2 M1436.6 1253.80h6.0M1483.7 1253.80h-6.0 M1436.60 946.3v5.0 M1438.95 946.3v2.6 M1441.31 946.3v2.6 M1443.66 946.3v2.6 M1446.02 946.3v5.0 M1448.38 946.3v2.6 M1450.73 946.3v2.6 M1453.09 946.3v2.6 M1455.44 946.3v5.0 M1457.80 946.3v2.6 M1460.15 946.3v2.6 M1462.50 946.3v2.6 M1464.86 946.3v5.0 M1467.21 946.3v2.6 M1469.57 946.3v2.6 M1471.92 946.3v2.6 M1474.28 946.3v5.0 M1476.63 946.3v2.6 M1478.99 946.3v2.6 M1481.35 946.3v2.6 M1483.70 946.3v5.0" stroke="#000" stroke-width="1.6" fill="none"/>
<text x="1491.3" y="964" font-size="29.2" text-anchor="start" fill="#000" >0.10</text>
<text x="1491.3" y="1017.7" font-size="29.2" text-anchor="start" fill="#000" >0.08</text>
<text x="1491.3" y="1079.1" font-size="29.2" text-anchor="start" fill="#000" >0.06</text>
<text x="1491.3" y="1140.5" font-size="29.2" text-anchor="start" fill="#000" >0.04</text>
<text x="1491.3" y="1201.9" font-size="29.2" text-anchor="start" fill="#000" >0.02</text>
<text x="1491.3" y="1254.3" font-size="29.2" text-anchor="start" fill="#000" >0.00</text>
<text transform="translate(1418.5,1099.8) rotate(-90)" font-size="30" text-anchor="middle">(counts.s<tspan font-size="13" dy="-13">-1</tspan><tspan dy="13">)</tspan></text>
</svg></body></html>
